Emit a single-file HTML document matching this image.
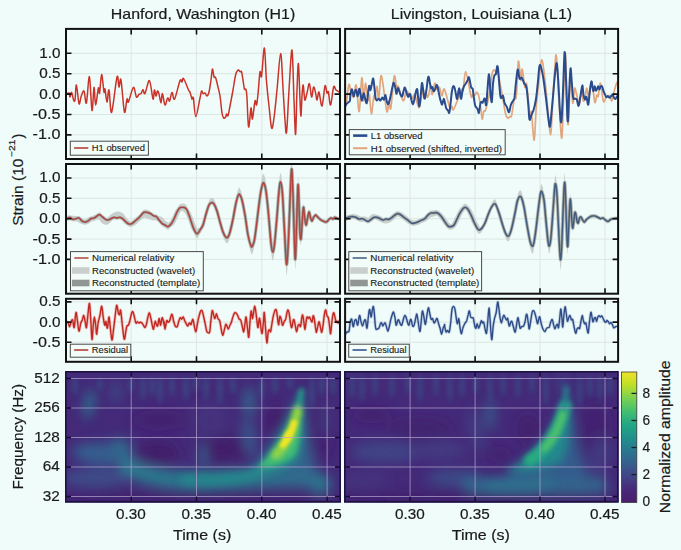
<!DOCTYPE html><html><head><meta charset="utf-8"><title>GW150914</title>
<style>html,body{margin:0;padding:0;background:#f0fcf9;}svg{display:block}text{font-family:"Liberation Sans",sans-serif;fill:#1a1a1a;stroke:#1a1a1a;stroke-width:0.2px}</style></head><body>
<svg width="681" height="550" viewBox="0 0 681 550">
<defs>
<clipPath id="cl0"><rect x="66" y="28.9" width="274" height="130.1"/></clipPath>
<clipPath id="cr0"><rect x="345.1" y="28.9" width="273" height="130.1"/></clipPath>
<clipPath id="cl1"><rect x="66" y="164" width="274" height="129.7"/></clipPath>
<clipPath id="cr1"><rect x="345.1" y="164" width="273" height="129.7"/></clipPath>
<clipPath id="cl2"><rect x="66" y="298.8" width="274" height="63"/></clipPath>
<clipPath id="cr2"><rect x="345.1" y="298.8" width="273" height="63"/></clipPath>
</defs>
<rect width="681" height="550" fill="#f0fcf9"/>
<line x1="131.2" y1="28.9" x2="131.2" y2="159" stroke="#dde7e3" stroke-width="1"/><line x1="196.5" y1="28.9" x2="196.5" y2="159" stroke="#dde7e3" stroke-width="1"/><line x1="261.8" y1="28.9" x2="261.8" y2="159" stroke="#dde7e3" stroke-width="1"/><line x1="327.1" y1="28.9" x2="327.1" y2="159" stroke="#dde7e3" stroke-width="1"/><line x1="66" y1="53.3" x2="340" y2="53.3" stroke="#dde7e3" stroke-width="1"/><line x1="66" y1="73.7" x2="340" y2="73.7" stroke="#dde7e3" stroke-width="1"/><line x1="66" y1="94.1" x2="340" y2="94.1" stroke="#dde7e3" stroke-width="1"/><line x1="66" y1="114.5" x2="340" y2="114.5" stroke="#dde7e3" stroke-width="1"/><line x1="66" y1="134.9" x2="340" y2="134.9" stroke="#dde7e3" stroke-width="1"/>
<line x1="410.1" y1="28.9" x2="410.1" y2="159" stroke="#dde7e3" stroke-width="1"/><line x1="475.1" y1="28.9" x2="475.1" y2="159" stroke="#dde7e3" stroke-width="1"/><line x1="540.0" y1="28.9" x2="540.0" y2="159" stroke="#dde7e3" stroke-width="1"/><line x1="605.0" y1="28.9" x2="605.0" y2="159" stroke="#dde7e3" stroke-width="1"/><line x1="345.1" y1="53.3" x2="618.1" y2="53.3" stroke="#dde7e3" stroke-width="1"/><line x1="345.1" y1="73.7" x2="618.1" y2="73.7" stroke="#dde7e3" stroke-width="1"/><line x1="345.1" y1="94.1" x2="618.1" y2="94.1" stroke="#dde7e3" stroke-width="1"/><line x1="345.1" y1="114.5" x2="618.1" y2="114.5" stroke="#dde7e3" stroke-width="1"/><line x1="345.1" y1="134.9" x2="618.1" y2="134.9" stroke="#dde7e3" stroke-width="1"/>
<g clip-path="url(#cl0)"><path d="M66.0,94.4C66.5,94.2 68.3,92.6 69.0,93.0C69.7,93.4 69.6,97.1 70.0,97.0C70.4,96.9 71.0,91.9 71.6,92.4C72.2,92.9 73.0,98.7 73.6,100.0C74.2,101.3 74.5,102.5 75.0,100.0C75.5,97.5 75.7,84.4 76.4,85.0C77.1,85.6 78.2,101.6 79.0,103.6C79.8,105.6 80.2,99.1 81.0,97.0C81.8,94.9 83.1,90.0 84.0,91.0C84.9,92.0 85.5,105.4 86.4,103.0C87.3,100.6 88.5,75.4 89.4,76.6C90.3,77.8 91.2,108.6 92.0,110.4C92.8,112.2 93.4,88.3 94.0,87.4C94.6,86.5 94.9,104.9 95.6,105.0C96.3,105.1 97.7,90.0 98.4,88.0C99.1,86.0 99.1,95.3 99.6,93.0C100.1,90.7 100.9,74.6 101.6,74.4C102.3,74.2 103.4,89.6 104.0,92.0C104.6,94.4 104.5,87.3 105.0,89.0C105.5,90.7 106.3,101.8 107.0,102.0C107.7,102.2 108.2,88.3 109.0,90.0C109.8,91.7 110.3,114.6 111.6,112.4C112.9,110.2 115.8,81.2 117.0,77.0C118.2,72.8 118.3,86.5 119.0,87.0C119.7,87.5 120.1,75.8 121.0,80.0C121.9,84.2 123.4,108.8 124.4,112.0C125.4,115.2 126.3,100.7 127.0,99.0C127.7,97.3 127.3,103.9 128.4,102.0C129.5,100.1 132.1,88.2 133.4,87.4C134.7,86.6 135.5,95.8 136.4,97.0C137.3,98.2 138.2,95.0 139.0,94.4C139.8,93.8 140.3,94.4 141.0,93.6C141.7,92.8 142.3,89.6 143.0,89.6C143.7,89.6 143.9,95.1 145.0,93.6C146.1,92.1 148.1,79.7 149.4,80.6C150.7,81.5 152.2,97.4 153.0,99.0C153.8,100.6 153.9,90.5 154.4,90.0C154.9,89.5 155.5,95.8 156.0,96.0C156.5,96.2 156.9,91.3 157.4,91.0C157.9,90.7 158.4,92.0 159.0,94.0C159.6,96.0 160.4,103.1 161.0,103.0C161.6,102.9 161.7,93.3 162.4,93.6C163.1,93.9 164.1,104.3 165.0,105.0C165.9,105.7 166.8,98.7 167.6,98.0C168.4,97.3 168.9,101.9 169.6,101.0C170.3,100.1 171.2,92.7 172.0,92.4C172.8,92.1 173.3,101.0 174.6,99.0C175.9,97.0 178.8,83.4 180.0,80.6C181.2,77.8 181.4,82.3 182.0,82.0C182.6,81.7 182.4,77.1 183.6,78.6C184.8,80.1 187.9,88.8 189.0,91.0C190.1,93.2 189.5,90.7 190.0,92.0C190.5,93.3 191.4,98.0 192.0,99.0C192.6,100.0 192.8,95.1 193.4,98.0C194.0,100.9 194.7,116.6 195.8,116.6C196.9,116.6 199.0,102.3 200.0,98.0C201.0,93.7 201.1,91.7 201.6,91.0C202.1,90.3 202.4,93.3 203.0,93.6C203.6,93.9 204.3,92.6 205.0,93.0C205.7,93.4 206.3,96.2 207.0,96.0C207.7,95.8 208.3,94.7 209.0,92.0C209.7,89.3 210.4,83.8 211.0,80.0C211.6,76.2 211.9,69.5 212.4,69.0C212.9,68.5 213.5,75.6 214.0,77.0C214.5,78.4 214.9,75.9 215.6,77.6C216.3,79.3 217.3,83.9 218.0,87.0C218.7,90.1 219.3,91.7 220.0,96.0C220.7,100.3 221.4,109.3 222.0,113.0C222.6,116.7 223.0,117.3 223.6,118.0C224.2,118.7 225.1,117.7 225.6,117.0C226.1,116.3 226.2,114.2 226.6,114.0C227.0,113.8 227.4,116.9 228.0,115.6C228.6,114.3 229.2,110.3 230.0,106.0C230.8,101.7 232.1,95.2 233.0,90.0C233.9,84.8 234.8,78.3 235.6,75.0C236.4,71.7 237.3,70.6 238.0,70.0C238.7,69.4 239.4,71.3 240.0,71.6C240.6,71.9 241.1,70.6 241.6,72.0C242.1,73.4 242.5,77.2 243.0,80.0C243.5,82.8 243.9,87.4 244.4,89.0C244.9,90.6 245.6,88.1 246.0,89.6C246.4,91.1 246.6,91.8 247.0,98.0C247.4,104.2 247.9,125.3 248.6,127.0C249.3,128.7 250.4,109.3 251.0,108.0C251.6,106.7 251.7,120.2 252.4,119.0C253.1,117.8 254.3,103.3 255.0,101.0C255.7,98.7 256.1,106.2 256.6,105.0C257.1,103.8 257.4,99.5 258.0,94.0C258.6,88.5 259.4,75.0 260.0,72.0C260.6,69.0 260.9,80.0 261.6,76.0C262.3,72.0 263.6,47.3 264.4,48.0C265.2,48.7 265.6,70.3 266.4,80.0C267.2,89.7 268.1,98.0 269.0,106.0C269.9,114.0 270.8,126.0 271.6,128.0C272.4,130.0 273.1,124.3 274.0,118.0C274.9,111.7 275.9,100.7 277.0,90.0C278.1,79.3 279.6,53.9 280.6,53.6C281.6,53.3 282.3,76.9 283.0,88.0C283.7,99.1 284.4,112.7 285.0,120.0C285.6,127.3 285.9,137.0 286.6,132.0C287.3,127.0 288.1,103.7 289.0,90.0C289.9,76.3 291.2,48.3 292.0,50.0C292.8,51.7 293.4,85.9 294.0,100.0C294.6,114.1 295.1,136.1 295.6,134.4C296.1,132.7 296.5,101.8 297.0,90.0C297.5,78.2 297.9,61.9 298.4,63.6C298.9,65.3 299.6,91.3 300.0,100.0C300.4,108.7 300.7,116.7 301.0,116.0C301.3,115.3 301.6,101.2 302.0,96.0C302.4,90.8 302.7,84.3 303.2,85.0C303.7,85.7 304.2,98.7 304.8,100.0C305.4,101.3 306.2,95.7 307.0,93.0C307.8,90.3 308.6,82.9 309.4,83.6C310.2,84.3 310.9,96.4 311.6,97.0C312.3,97.6 312.9,87.7 313.6,87.0C314.3,86.3 315.0,90.8 315.6,93.0C316.2,95.2 316.4,100.2 317.0,100.0C317.6,99.8 318.2,91.0 319.0,92.0C319.8,93.0 321.0,107.0 322.0,106.0C323.0,105.0 324.2,88.2 325.0,86.0C325.8,83.8 326.4,92.0 327.0,93.0C327.6,94.0 327.8,90.0 328.4,92.0C329.0,94.0 329.7,105.8 330.6,105.0C331.5,104.2 332.7,89.5 333.6,87.0C334.5,84.5 334.9,89.1 336.0,90.0C337.1,90.9 339.3,92.0 340.0,92.4" fill="none" stroke="#c9332a" stroke-width="1.5" stroke-linejoin="round"/></g>
<g clip-path="url(#cr0)"><path d="M335.8,93.8C336.3,94.0 338.1,95.6 338.8,95.2C339.5,94.8 339.4,91.1 339.8,91.2C340.2,91.3 340.8,96.3 341.4,95.8C342.0,95.3 342.8,89.5 343.4,88.2C344.0,86.9 344.3,85.7 344.8,88.2C345.3,90.7 345.5,103.8 346.2,103.2C346.9,102.6 348.0,86.6 348.8,84.6C349.6,82.6 350.0,89.1 350.8,91.2C351.6,93.3 352.9,98.2 353.8,97.2C354.7,96.2 355.3,82.8 356.2,85.2C357.1,87.6 358.3,112.8 359.2,111.6C360.1,110.4 361.0,79.6 361.8,77.8C362.6,76.0 363.2,99.9 363.8,100.8C364.4,101.7 364.7,83.3 365.4,83.2C366.1,83.1 367.5,98.2 368.2,100.2C368.9,102.2 368.9,92.9 369.4,95.2C369.9,97.5 370.7,113.6 371.4,113.8C372.1,114.0 373.2,98.6 373.8,96.2C374.4,93.8 374.3,100.9 374.8,99.2C375.3,97.5 376.1,86.4 376.8,86.2C377.5,86.0 378.0,99.9 378.8,98.2C379.6,96.5 380.1,73.6 381.4,75.8C382.7,78.0 385.6,107.0 386.8,111.2C388.0,115.4 388.1,101.7 388.8,101.2C389.5,100.7 389.9,112.4 390.8,108.2C391.7,104.0 393.2,79.4 394.2,76.2C395.2,73.0 396.1,87.5 396.8,89.2C397.5,90.9 397.1,84.3 398.2,86.2C399.3,88.1 401.9,100.0 403.2,100.8C404.5,101.6 405.3,92.4 406.2,91.2C407.1,90.0 408.0,93.2 408.8,93.8C409.6,94.4 410.1,93.8 410.8,94.6C411.5,95.4 412.1,98.6 412.8,98.6C413.5,98.6 413.7,93.1 414.8,94.6C415.9,96.1 417.9,108.5 419.2,107.6C420.5,106.7 422.0,90.8 422.8,89.2C423.6,87.6 423.7,97.7 424.2,98.2C424.7,98.7 425.3,92.4 425.8,92.2C426.3,92.0 426.7,96.9 427.2,97.2C427.7,97.5 428.2,96.2 428.8,94.2C429.4,92.2 430.2,85.1 430.8,85.2C431.4,85.3 431.5,94.9 432.2,94.6C432.9,94.3 433.9,83.9 434.8,83.2C435.7,82.5 436.6,89.5 437.4,90.2C438.2,90.9 438.7,86.3 439.4,87.2C440.1,88.1 441.0,95.5 441.8,95.8C442.6,96.1 443.1,87.2 444.4,89.2C445.7,91.2 448.6,104.8 449.8,107.6C451.0,110.4 451.2,105.9 451.8,106.2C452.4,106.5 452.2,111.1 453.4,109.6C454.6,108.1 457.7,99.4 458.8,97.2C459.9,95.0 459.3,97.5 459.8,96.2C460.3,94.9 461.2,90.2 461.8,89.2C462.4,88.2 462.6,93.1 463.2,90.2C463.8,87.3 464.5,71.6 465.6,71.6C466.7,71.6 468.8,85.9 469.8,90.2C470.8,94.5 470.9,96.5 471.4,97.2C471.9,97.9 472.2,94.9 472.8,94.6C473.4,94.3 474.1,95.6 474.8,95.2C475.5,94.8 476.1,92.0 476.8,92.2C477.5,92.4 478.1,93.5 478.8,96.2C479.5,98.9 480.2,104.4 480.8,108.2C481.4,112.0 481.7,118.7 482.2,119.2C482.7,119.7 483.3,112.6 483.8,111.2C484.3,109.8 484.7,112.3 485.4,110.6C486.1,108.9 487.1,104.3 487.8,101.2C488.5,98.1 489.1,96.5 489.8,92.2C490.5,87.9 491.2,78.9 491.8,75.2C492.4,71.5 492.8,70.9 493.4,70.2C494.0,69.5 494.9,70.5 495.4,71.2C495.9,71.9 496.0,74.0 496.4,74.2C496.8,74.4 497.2,71.3 497.8,72.6C498.4,73.9 499.0,77.9 499.8,82.2C500.6,86.5 501.9,93.0 502.8,98.2C503.7,103.4 504.6,109.9 505.4,113.2C506.2,116.5 507.1,117.6 507.8,118.2C508.5,118.8 509.2,116.9 509.8,116.6C510.4,116.3 510.9,117.6 511.4,116.2C511.9,114.8 512.3,111.0 512.8,108.2C513.3,105.4 513.7,100.8 514.2,99.2C514.7,97.6 515.4,100.1 515.8,98.6C516.2,97.1 516.4,96.4 516.8,90.2C517.2,84.0 517.7,62.9 518.4,61.2C519.1,59.5 520.2,78.9 520.8,80.2C521.4,81.5 521.5,68.0 522.2,69.2C522.9,70.4 524.1,84.9 524.8,87.2C525.5,89.5 525.9,82.0 526.4,83.2C526.9,84.4 527.2,88.7 527.8,94.2C528.4,99.7 529.2,113.2 529.8,116.2C530.4,119.2 530.7,108.2 531.4,112.2C532.1,116.2 533.4,140.9 534.2,140.2C535.0,139.5 535.4,117.9 536.2,108.2C537.0,98.5 537.9,90.2 538.8,82.2C539.7,74.2 540.6,62.2 541.4,60.2C542.2,58.2 542.9,63.9 543.8,70.2C544.7,76.5 545.7,87.5 546.8,98.2C547.9,108.9 549.4,134.3 550.4,134.6C551.4,134.9 552.1,111.3 552.8,100.2C553.5,89.1 554.2,75.5 554.8,68.2C555.4,60.9 555.7,51.2 556.4,56.2C557.1,61.2 557.9,84.5 558.8,98.2C559.7,111.9 561.0,139.9 561.8,138.2C562.6,136.5 563.2,102.3 563.8,88.2C564.4,74.1 564.9,52.1 565.4,53.8C565.9,55.5 566.3,86.4 566.8,98.2C567.3,110.0 567.7,126.3 568.2,124.6C568.7,122.9 569.4,96.9 569.8,88.2C570.2,79.5 570.5,71.5 570.8,72.2C571.1,72.9 571.4,87.0 571.8,92.2C572.2,97.4 572.5,103.9 573.0,103.2C573.5,102.5 574.0,89.5 574.6,88.2C575.2,86.9 576.0,92.5 576.8,95.2C577.6,97.9 578.4,105.3 579.2,104.6C580.0,103.9 580.7,91.8 581.4,91.2C582.1,90.6 582.7,100.5 583.4,101.2C584.1,101.9 584.8,97.4 585.4,95.2C586.0,93.0 586.2,88.0 586.8,88.2C587.4,88.4 588.0,97.2 588.8,96.2C589.6,95.2 590.8,81.2 591.8,82.2C592.8,83.2 594.0,100.0 594.8,102.2C595.6,104.4 596.2,96.2 596.8,95.2C597.4,94.2 597.6,98.2 598.2,96.2C598.8,94.2 599.5,82.4 600.4,83.2C601.3,84.0 602.5,98.7 603.4,101.2C604.3,103.7 604.7,99.1 605.8,98.2C606.9,97.3 608.8,95.4 609.8,95.8C610.8,96.2 611.0,101.6 611.8,100.8C612.5,100.0 613.5,93.8 614.3,90.8C615.1,87.8 615.9,84.6 616.8,82.8C617.7,81.0 619.3,80.3 619.8,79.8" fill="none" stroke="#e2a67f" stroke-width="1.7" stroke-linejoin="round"/><path d="M344.5,108.2C344.8,107.6 345.5,105.4 346.1,104.4C346.7,103.5 347.4,103.2 348.0,102.6C348.6,101.9 349.4,102.2 349.9,100.7C350.3,99.2 350.1,95.7 350.5,93.8C350.8,91.9 351.5,88.8 352.0,89.2C352.5,89.6 353.1,96.0 353.6,96.3C354.1,96.7 354.4,92.4 354.9,91.3C355.3,90.3 355.6,89.3 356.1,90.1C356.6,90.9 357.2,96.5 357.7,96.3C358.2,96.1 358.8,89.3 359.2,88.8C359.7,88.4 360.0,91.9 360.5,93.8C360.9,95.8 361.5,100.8 362.0,100.7C362.5,100.6 363.1,93.5 363.6,93.2C364.1,92.9 364.7,97.2 365.2,98.8C365.7,100.5 366.3,104.0 366.7,103.2C367.2,102.4 367.5,96.7 368.0,93.8C368.4,90.9 368.8,86.3 369.2,85.7C369.6,85.1 370.0,90.5 370.5,90.1C370.9,89.7 371.5,85.2 372.0,83.2C372.4,81.3 372.8,78.1 373.2,78.5C373.6,78.9 373.8,82.5 374.2,85.7C374.6,88.9 375.0,95.1 375.5,97.6C375.9,100.0 376.2,100.2 376.7,100.5C377.2,100.7 377.9,98.8 378.6,98.8C379.2,98.8 379.8,100.7 380.4,100.5C381.1,100.2 381.7,97.7 382.3,97.6C382.9,97.5 383.4,100.1 383.9,99.7C384.5,99.3 384.9,94.7 385.4,95.1C385.9,95.5 386.5,100.4 386.9,101.9C387.4,103.5 387.8,104.5 388.2,104.4C388.6,104.3 389.0,103.1 389.4,101.3C389.9,99.6 390.5,96.4 391.1,93.8C391.6,91.2 392.2,87.6 392.7,85.7C393.1,83.9 393.4,82.4 393.8,82.6C394.2,82.8 394.7,85.1 395.2,87.0C395.6,88.8 396.0,93.6 396.4,93.8C396.9,94.0 397.5,88.7 397.9,88.2C398.4,87.7 398.7,89.6 399.2,90.7C399.6,91.9 400.1,94.1 400.7,95.1C401.2,96.0 401.8,97.2 402.3,96.3C402.8,95.5 403.3,91.5 403.8,90.1C404.2,88.6 404.6,87.1 405.0,87.6C405.5,88.1 406.1,91.7 406.7,93.2C407.2,94.8 407.6,96.9 408.2,97.0C408.7,97.1 409.2,93.4 409.8,93.8C410.3,94.3 410.9,97.9 411.4,99.7C411.9,101.5 412.4,104.5 412.9,104.4C413.4,104.4 413.9,101.6 414.4,99.5C414.9,97.3 415.5,93.0 416.0,91.3C416.5,89.7 416.9,88.1 417.3,89.5C417.6,90.8 417.9,96.6 418.3,99.5C418.6,102.3 419.0,106.8 419.4,106.3C419.8,105.8 420.2,100.2 420.6,96.3C421.1,92.5 421.5,84.7 421.9,83.2C422.3,81.8 422.5,85.3 422.9,87.6C423.3,89.9 423.8,95.2 424.1,97.0C424.5,98.7 424.6,99.4 425.0,98.2C425.4,96.9 426.0,92.6 426.5,89.5C427.0,86.3 427.4,81.6 427.7,79.5C428.1,77.4 428.4,76.3 428.7,76.7C429.1,77.1 429.4,80.1 429.7,82.0C430.1,83.9 430.6,87.4 431.0,88.2C431.4,89.0 431.8,86.4 432.2,87.0C432.7,87.5 433.2,91.0 433.7,91.3C434.2,91.6 434.8,89.9 435.2,88.8C435.7,87.8 436.1,85.4 436.5,85.1C436.9,84.8 437.3,85.2 437.7,87.0C438.2,88.7 438.8,93.2 439.4,95.7C439.9,98.2 440.5,100.5 441.0,101.9C441.5,103.4 441.8,105.0 442.2,104.4C442.7,103.9 443.3,99.0 443.7,98.8C444.2,98.6 444.6,101.6 445.0,103.2C445.4,104.7 445.7,106.9 446.2,108.2C446.7,109.4 447.6,110.0 448.1,110.7C448.6,111.4 448.9,113.8 449.3,112.6C449.8,111.3 450.2,106.6 450.6,103.2C451.0,99.8 451.4,94.8 451.8,92.0C452.3,89.1 452.6,87.0 453.1,86.3C453.6,85.7 454.2,86.7 454.7,88.2C455.2,89.8 455.8,93.9 456.2,95.7C456.6,97.5 456.8,99.5 457.2,98.8C457.6,98.1 458.1,93.1 458.5,91.3C458.8,89.6 459.0,87.9 459.3,88.5C459.6,89.0 460.0,92.7 460.3,94.5C460.6,96.2 460.8,99.3 461.2,98.8C461.6,98.3 462.0,93.4 462.4,91.3C462.9,89.3 463.4,87.6 463.9,86.3C464.5,85.1 465.0,84.8 465.6,83.8C466.1,82.9 466.9,81.9 467.4,80.7C468.0,79.6 468.5,76.7 468.9,77.0C469.4,77.3 469.8,80.8 470.2,82.6C470.6,84.4 470.8,86.5 471.2,87.6C471.6,88.6 472.2,87.1 472.7,88.8C473.1,90.6 473.5,95.4 473.9,98.2C474.3,101.0 474.8,104.1 475.2,105.7C475.6,107.2 476.0,106.9 476.4,107.6C476.8,108.2 477.3,108.5 477.7,109.4C478.1,110.3 478.5,113.8 478.9,112.9C479.3,112.1 479.8,106.3 480.2,104.4C480.5,102.6 480.8,102.3 481.2,101.9C481.6,101.6 482.2,103.0 482.7,102.6C483.1,102.1 483.5,100.1 483.9,99.4C484.3,98.8 484.5,97.9 484.9,98.8C485.3,99.8 485.7,106.4 486.2,105.1C486.6,103.7 487.0,95.7 487.4,90.7C487.8,85.7 488.3,77.2 488.7,75.1C489.0,73.0 489.2,75.2 489.5,78.2C489.8,81.2 490.2,89.3 490.5,93.2C490.9,97.2 491.4,103.5 491.8,101.9C492.2,100.4 492.6,88.2 493.0,83.8C493.4,79.5 493.8,77.4 494.3,75.7C494.8,74.1 495.4,75.4 495.9,73.9C496.4,72.3 496.8,67.1 497.1,66.4C497.5,65.6 497.8,66.5 498.1,69.5C498.5,72.5 498.9,79.9 499.3,84.5C499.7,89.0 500.1,94.8 500.5,96.9C500.9,99.1 501.3,97.8 501.8,97.6C502.2,97.4 502.5,94.8 503.0,95.7C503.5,96.6 504.0,101.3 504.6,103.2C505.3,105.0 506.1,105.3 506.8,106.8C507.5,108.3 508.3,112.6 509.0,112.3C509.7,112.0 510.1,107.0 510.8,105.0C511.5,103.0 512.6,101.7 513.2,100.5C513.8,99.2 514.0,100.6 514.5,97.7C514.9,94.8 515.4,87.9 515.9,83.2C516.5,78.5 517.1,70.3 517.7,69.5C518.3,68.8 518.9,77.3 519.5,78.6C520.2,80.0 521.0,77.0 521.7,77.7C522.5,78.5 523.3,81.5 524.1,83.2C524.9,84.8 525.8,84.1 526.5,87.7C527.2,91.4 527.8,99.7 528.3,105.0C528.8,110.3 529.0,117.9 529.5,119.5C530.1,121.2 530.7,116.7 531.4,115.0C532.1,113.3 533.0,112.1 533.7,109.5C534.5,107.0 535.2,103.8 535.9,99.5C536.6,95.3 537.1,89.7 537.7,84.1C538.3,78.5 538.9,68.5 539.5,65.9C540.2,63.3 540.7,66.4 541.4,68.6C542.0,70.9 542.8,74.7 543.5,79.5C544.3,84.4 545.1,91.4 545.9,97.7C546.7,104.1 547.6,112.9 548.3,117.7C548.9,122.6 549.4,127.4 549.9,126.8C550.4,126.2 550.8,119.5 551.4,114.1C551.9,108.6 552.6,100.8 553.2,94.1C553.8,87.4 554.4,79.2 555.0,74.1C555.6,68.9 556.3,62.0 556.8,63.2C557.4,64.4 557.7,72.9 558.3,81.4C558.8,89.8 559.6,107.4 560.1,114.1C560.6,120.8 560.9,124.4 561.4,121.4C561.8,118.3 562.3,107.4 562.8,95.9C563.4,84.4 564.1,54.7 564.6,52.3C565.2,49.8 565.6,69.8 566.1,81.4C566.6,92.9 567.2,118.9 567.7,121.4C568.2,123.8 568.5,104.7 569.0,95.9C569.5,87.1 570.0,71.1 570.5,68.6C570.9,66.2 571.3,76.5 571.7,81.4C572.2,86.2 572.6,94.8 573.2,97.7C573.7,100.6 574.4,98.3 575.0,98.6C575.6,98.9 576.2,98.3 576.8,99.5C577.4,100.8 578.0,106.5 578.6,105.9C579.2,105.3 579.8,99.3 580.5,95.9C581.1,92.5 581.8,85.5 582.3,85.4C582.8,85.2 583.1,92.6 583.5,95.0C584.0,97.4 584.5,99.2 585.0,99.5C585.5,99.8 585.9,96.0 586.5,96.8C587.0,97.7 587.7,105.7 588.3,104.6C588.8,103.6 589.4,94.3 589.9,90.5C590.4,86.6 590.9,82.0 591.4,81.4C591.8,80.8 592.1,85.2 592.4,86.8C592.8,88.5 593.1,91.3 593.5,91.2C593.9,91.1 594.2,86.4 594.6,86.3C595.0,86.2 595.5,90.3 595.9,90.6C596.3,91.0 596.8,89.2 597.2,88.5C597.6,87.7 597.9,86.1 598.3,86.3C598.7,86.5 599.0,89.5 599.4,89.5C599.8,89.5 600.3,86.7 600.8,86.3C601.3,85.8 601.8,86.0 602.2,86.8C602.7,87.6 603.1,89.8 603.5,91.2C604.0,92.5 604.7,94.0 605.2,95.0C605.6,96.0 605.8,97.0 606.3,97.2C606.7,97.4 607.4,96.0 607.9,96.1C608.5,96.2 609.0,97.7 609.5,97.7C610.1,97.7 610.6,96.6 611.2,96.1C611.7,95.5 612.4,94.2 612.8,94.5C613.3,94.7 613.5,97.0 613.9,97.7C614.4,98.5 615.0,99.1 615.5,98.8C616.1,98.5 616.5,96.5 617.2,96.1C617.9,95.7 619.5,96.5 619.9,96.6" fill="none" stroke="#2a4b8d" stroke-width="2" stroke-linejoin="round"/></g>
<path d="M131.2,28.9 v5.5 M131.2,159 v-5.5" stroke="#111" stroke-width="1.6" fill="none"/><path d="M196.5,28.9 v5.5 M196.5,159 v-5.5" stroke="#111" stroke-width="1.6" fill="none"/><path d="M261.8,28.9 v5.5 M261.8,159 v-5.5" stroke="#111" stroke-width="1.6" fill="none"/><path d="M327.1,28.9 v5.5 M327.1,159 v-5.5" stroke="#111" stroke-width="1.6" fill="none"/><path d="M66,53.3 h5.5 M340,53.3 h-5.5" stroke="#111" stroke-width="1.6" fill="none"/><path d="M66,73.7 h5.5 M340,73.7 h-5.5" stroke="#111" stroke-width="1.6" fill="none"/><path d="M66,94.1 h5.5 M340,94.1 h-5.5" stroke="#111" stroke-width="1.6" fill="none"/><path d="M66,114.5 h5.5 M340,114.5 h-5.5" stroke="#111" stroke-width="1.6" fill="none"/><path d="M66,134.9 h5.5 M340,134.9 h-5.5" stroke="#111" stroke-width="1.6" fill="none"/>
<path d="M410.1,28.9 v5.5 M410.1,159 v-5.5" stroke="#111" stroke-width="1.6" fill="none"/><path d="M475.1,28.9 v5.5 M475.1,159 v-5.5" stroke="#111" stroke-width="1.6" fill="none"/><path d="M540.0,28.9 v5.5 M540.0,159 v-5.5" stroke="#111" stroke-width="1.6" fill="none"/><path d="M605.0,28.9 v5.5 M605.0,159 v-5.5" stroke="#111" stroke-width="1.6" fill="none"/><path d="M345.1,53.3 h5.5 M618.1,53.3 h-5.5" stroke="#111" stroke-width="1.6" fill="none"/><path d="M345.1,73.7 h5.5 M618.1,73.7 h-5.5" stroke="#111" stroke-width="1.6" fill="none"/><path d="M345.1,94.1 h5.5 M618.1,94.1 h-5.5" stroke="#111" stroke-width="1.6" fill="none"/><path d="M345.1,114.5 h5.5 M618.1,114.5 h-5.5" stroke="#111" stroke-width="1.6" fill="none"/><path d="M345.1,134.9 h5.5 M618.1,134.9 h-5.5" stroke="#111" stroke-width="1.6" fill="none"/>
<rect x="70.3" y="141.2" width="78.1" height="14.0" fill="#f2fcf9" stroke="#4a4a4a" stroke-width="1"/><line x1="74.1" y1="148.0" x2="88.3" y2="148.0" stroke="#b2423a" stroke-width="1.6"/><text style="stroke-width:0.12px" x="91.8" y="151.3" font-size="9.5" textLength="53.2" lengthAdjust="spacingAndGlyphs" fill="#1c1c1c">H1 observed</text>
<rect x="349.3" y="129.6" width="155.9" height="25.2" fill="#f2fcf9" stroke="#4a4a4a" stroke-width="1"/><line x1="353.1" y1="135.6" x2="367.3" y2="135.6" stroke="#2a4b8d" stroke-width="2.6"/><text style="stroke-width:0.12px" x="370.8" y="138.9" font-size="9.5" textLength="51.8" lengthAdjust="spacingAndGlyphs" fill="#1c1c1c">L1 observed</text><line x1="353.1" y1="148.2" x2="367.3" y2="148.2" stroke="#e2a67f" stroke-width="2"/><text style="stroke-width:0.12px" x="370.8" y="151.5" font-size="9.5" textLength="131.2" lengthAdjust="spacingAndGlyphs" fill="#1c1c1c">H1 observed (shifted, inverted)</text>
<rect x="66" y="28.9" width="274" height="130.1" fill="none" stroke="#111" stroke-width="2"/>
<rect x="345.1" y="28.9" width="273" height="130.1" fill="none" stroke="#111" stroke-width="2"/>
<line x1="131.2" y1="164" x2="131.2" y2="293.7" stroke="#dde7e3" stroke-width="1"/><line x1="196.5" y1="164" x2="196.5" y2="293.7" stroke="#dde7e3" stroke-width="1"/><line x1="261.8" y1="164" x2="261.8" y2="293.7" stroke="#dde7e3" stroke-width="1"/><line x1="327.1" y1="164" x2="327.1" y2="293.7" stroke="#dde7e3" stroke-width="1"/><line x1="66" y1="178.0" x2="340" y2="178.0" stroke="#dde7e3" stroke-width="1"/><line x1="66" y1="198.3" x2="340" y2="198.3" stroke="#dde7e3" stroke-width="1"/><line x1="66" y1="218.7" x2="340" y2="218.7" stroke="#dde7e3" stroke-width="1"/><line x1="66" y1="239.1" x2="340" y2="239.1" stroke="#dde7e3" stroke-width="1"/><line x1="66" y1="259.4" x2="340" y2="259.4" stroke="#dde7e3" stroke-width="1"/>
<line x1="410.1" y1="164" x2="410.1" y2="293.7" stroke="#dde7e3" stroke-width="1"/><line x1="475.1" y1="164" x2="475.1" y2="293.7" stroke="#dde7e3" stroke-width="1"/><line x1="540.0" y1="164" x2="540.0" y2="293.7" stroke="#dde7e3" stroke-width="1"/><line x1="605.0" y1="164" x2="605.0" y2="293.7" stroke="#dde7e3" stroke-width="1"/><line x1="345.1" y1="178.0" x2="618.1" y2="178.0" stroke="#dde7e3" stroke-width="1"/><line x1="345.1" y1="198.3" x2="618.1" y2="198.3" stroke="#dde7e3" stroke-width="1"/><line x1="345.1" y1="218.7" x2="618.1" y2="218.7" stroke="#dde7e3" stroke-width="1"/><line x1="345.1" y1="239.1" x2="618.1" y2="239.1" stroke="#dde7e3" stroke-width="1"/><line x1="345.1" y1="259.4" x2="618.1" y2="259.4" stroke="#dde7e3" stroke-width="1"/>
<g clip-path="url(#cl1)"><path d="M65.0,217.2L65.2,217.2L65.5,217.3L65.9,217.3L66.4,217.2L67.2,216.9L68.1,216.4L69.1,215.9L70.0,215.8L70.8,216.2L71.5,217.0L72.3,217.6L73.0,217.9L73.8,217.9L74.5,217.7L75.2,217.4L76.0,217.2L76.8,216.9L77.5,216.6L78.2,216.4L79.0,216.5L79.8,217.1L80.5,217.9L81.2,218.8L82.0,219.4L82.8,219.8L83.5,220.1L84.2,220.3L85.0,220.3L85.8,220.3L86.5,220.1L87.2,219.8L88.0,219.4L88.8,218.9L89.5,218.3L90.2,217.7L91.0,217.2L91.8,216.9L92.5,216.8L93.2,216.8L94.0,216.5L94.8,216.0L95.5,215.4L96.3,214.7L97.0,214.1L97.7,213.5L98.3,212.9L99.0,212.5L99.6,212.4L100.2,212.7L100.8,213.3L101.4,214.1L102.0,214.8L102.7,215.6L103.5,216.3L104.2,217.1L105.0,217.6L105.8,217.9L106.5,218.2L107.2,218.4L108.0,218.5L108.8,218.3L109.5,218.0L110.2,217.6L111.0,217.2L111.8,216.8L112.5,216.4L113.2,216.0L114.0,215.8L114.8,215.9L115.5,216.1L116.2,216.4L117.0,216.5L117.8,216.4L118.5,216.1L119.2,215.8L120.0,215.8L120.8,216.0L121.5,216.5L122.2,217.0L123.0,217.6L123.8,218.2L124.5,218.9L125.2,219.7L126.0,220.3L126.8,220.9L127.6,221.5L128.3,221.9L129.0,222.2L129.5,222.4L130.0,222.4L130.5,222.4L131.0,222.2L131.7,221.9L132.4,221.4L133.2,220.9L134.0,220.3L134.8,219.8L135.5,219.2L136.2,218.6L137.0,217.9L137.8,217.3L138.5,216.6L139.2,215.7L140.0,214.8L140.8,213.7L141.6,212.5L142.3,211.3L143.0,210.5L143.5,210.0L144.0,209.7L144.5,209.6L145.0,209.5L145.7,209.5L146.4,209.6L147.2,209.7L148.0,210.0L148.8,210.3L149.5,210.7L150.2,211.2L151.0,211.7L151.8,212.3L152.5,212.9L153.3,213.6L154.0,214.1L154.6,214.3L155.2,214.4L155.8,214.4L156.4,214.8L157.0,215.6L157.7,216.7L158.3,217.6L159.0,218.5L159.7,219.3L160.5,220.2L161.2,221.0L162.0,221.7L162.8,222.1L163.5,222.5L164.2,222.8L165.0,223.1L165.8,223.6L166.5,224.1L167.2,224.5L168.0,224.6L168.8,224.3L169.5,223.8L170.2,223.1L171.0,222.2L171.8,221.2L172.5,220.1L173.2,218.9L174.0,217.6L174.8,215.7L175.5,213.4L176.3,211.2L177.0,209.3L177.7,207.7L178.3,206.4L179.0,205.3L179.6,204.4L180.2,203.9L180.8,203.7L181.4,203.7L182.0,203.7L182.6,203.6L183.3,203.6L184.0,203.7L184.6,203.9L185.2,204.3L185.8,204.8L186.4,205.6L187.0,206.8L187.7,208.8L188.5,211.2L189.2,213.9L190.0,216.5L190.8,218.7L191.5,220.9L192.2,223.1L193.0,225.0L193.8,226.7L194.6,228.3L195.3,229.6L196.0,230.6L196.5,231.1L196.8,231.3L197.2,231.2L197.6,231.0L198.1,230.4L198.7,229.7L199.3,228.8L200.0,227.8L200.7,226.9L201.5,225.9L202.2,224.7L203.0,223.1L203.8,220.9L204.5,218.3L205.2,215.0L206.0,211.7L206.8,208.6L207.5,205.6L208.3,202.9L209.0,200.8L209.7,199.4L210.3,198.5L211.0,198.1L211.6,197.9L212.2,197.8L212.8,198.0L213.4,198.6L214.0,199.6L214.7,201.1L215.5,203.1L216.2,205.4L217.0,208.0L217.8,211.1L218.5,214.5L219.2,217.8L220.0,220.3L220.8,222.8L221.5,225.3L222.2,227.6L223.0,229.6L223.8,231.3L224.6,232.8L225.3,233.9L226.0,234.7L226.6,235.1L227.1,235.1L227.5,234.8L228.0,234.3L228.5,233.6L228.9,232.7L229.4,231.4L230.0,229.6L230.7,227.2L231.4,224.2L232.2,221.0L233.0,217.6L233.8,212.9L234.5,207.7L235.3,202.6L236.0,198.4L236.7,195.0L237.3,192.3L237.9,190.2L238.4,188.7L238.8,187.9L239.2,187.7L239.6,188.0L240.0,188.7L240.4,189.5L240.9,190.6L241.4,192.2L242.0,194.7L242.7,198.3L243.4,202.7L244.2,207.6L245.0,212.9L245.8,218.4L246.5,223.4L247.2,228.3L248.0,232.4L248.8,235.8L249.6,238.7L250.4,241.0L251.0,242.7L251.4,243.5L251.8,243.7L252.0,243.3L252.4,242.7L252.8,241.9L253.3,241.0L253.8,239.5L254.4,237.1L255.0,233.6L255.6,229.3L256.3,224.4L257.0,219.4L257.7,213.0L258.5,205.1L259.3,197.5L260.0,191.1L260.7,186.1L261.3,181.9L261.9,178.6L262.4,176.1L262.8,174.5L263.2,173.9L263.6,173.9L264.0,174.6L264.5,175.8L265.0,177.5L265.5,180.1L266.0,183.8L266.6,189.0L267.2,195.5L267.8,202.7L268.4,210.5L269.1,218.9L269.8,226.7L270.4,234.1L271.0,239.9L271.5,243.7L271.9,246.2L272.2,247.7L272.6,248.2L273.0,248.0L273.5,246.9L273.9,244.8L274.4,241.7L274.9,237.4L275.5,231.9L276.0,225.8L276.6,219.4L277.2,211.0L277.8,200.9L278.5,191.3L279.0,183.8L279.5,178.8L279.8,175.3L280.2,173.4L280.6,173.0L281.0,173.9L281.5,176.2L281.9,180.2L282.4,186.3L282.9,195.2L283.4,206.6L283.9,218.3L284.4,226.9L284.8,234.8L285.3,242.7L285.7,249.6L286.0,254.8L286.3,258.0L286.5,259.6L286.7,259.8L287.0,258.5L287.3,255.5L287.7,250.8L288.0,244.9L288.4,238.0L288.8,229.7L289.2,220.0L289.6,207.9L290.0,195.9L290.4,183.9L290.8,171.6L291.2,161.7L291.6,157.2L292.0,159.6L292.3,167.1L292.7,177.5L293.0,188.7L293.4,201.7L293.7,217.1L294.1,228.7L294.4,238.0L294.7,245.2L294.9,251.0L295.1,254.6L295.4,254.8L295.7,250.4L296.0,242.3L296.3,232.6L296.6,223.1L296.9,211.7L297.3,196.7L297.7,183.8L298.0,176.6L298.3,177.3L298.5,183.5L298.8,192.4L299.0,200.8L299.2,209.2L299.5,218.4L299.8,225.3L300.0,230.6L300.2,233.8L300.5,235.8L300.8,236.6L301.0,236.2L301.2,234.3L301.5,231.0L301.7,227.1L302.0,223.1L302.3,218.7L302.7,212.6L303.1,206.8L303.4,203.7L303.7,204.3L304.0,207.6L304.3,211.8L304.6,215.3L304.9,218.0L305.3,220.3L305.6,222.2L306.0,223.1L306.3,222.7L306.7,221.2L307.0,219.3L307.4,217.6L307.8,215.3L308.2,212.6L308.6,210.3L309.0,209.3L309.4,210.1L309.8,212.1L310.2,214.6L310.6,216.5L311.0,217.7L311.3,218.6L311.6,219.2L312.0,219.4L312.4,219.0L312.8,218.1L313.2,217.0L313.6,215.8L314.1,214.8L314.6,213.9L315.1,213.2L315.6,212.9L316.2,213.2L316.7,214.0L317.3,214.9L318.0,215.8L318.7,216.6L319.5,217.3L320.2,218.0L321.0,218.5L321.8,218.9L322.5,219.3L323.3,219.5L324.0,219.8L324.6,220.1L325.2,220.3L325.8,220.4L326.4,220.3L327.0,219.9L327.7,219.3L328.4,218.5L329.0,217.9L329.5,217.5L330.0,217.1L330.5,216.7L331.0,216.5L331.5,216.7L332.0,217.1L332.5,217.4L333.0,217.6L333.5,217.3L333.9,216.7L334.4,216.1L335.0,215.8L335.7,215.9L336.4,216.4L337.2,216.9L338.0,217.2L339.0,217.3L340.2,217.3L341.3,217.2L342.0,217.2L342.0,220.0L341.3,220.1L340.2,220.1L339.0,220.1L338.0,220.0L337.2,219.7L336.4,219.3L335.7,219.0L335.0,218.9L334.4,219.1L333.9,219.6L333.5,220.2L333.0,220.5L332.5,220.4L332.0,219.9L331.5,219.6L331.0,219.4L330.5,219.6L330.0,219.9L329.5,220.4L329.0,221.0L328.4,221.8L327.7,222.7L327.0,223.6L326.4,224.2L325.8,224.3L325.2,224.1L324.6,223.8L324.0,223.4L323.3,223.1L322.5,222.7L321.8,222.3L321.0,221.7L320.2,221.0L319.5,220.2L318.7,219.5L318.0,218.9L317.3,218.2L316.7,217.5L316.2,216.9L315.6,216.6L315.1,216.9L314.6,217.4L314.1,218.1L313.6,218.9L313.2,219.8L312.8,221.2L312.4,222.4L312.0,222.9L311.6,222.7L311.3,221.9L311.0,220.7L310.6,219.4L310.2,217.9L309.8,216.1L309.4,214.5L309.0,213.8L308.6,214.6L308.2,216.4L307.8,218.5L307.4,220.5L307.0,222.8L306.7,225.3L306.3,227.2L306.0,227.8L305.6,226.6L305.3,224.1L304.9,221.1L304.6,218.5L304.3,215.8L304.0,212.5L303.7,210.1L303.4,209.6L303.1,212.0L302.7,216.4L302.3,222.0L302.0,227.8L301.7,232.9L301.5,238.0L301.2,242.3L301.0,244.7L300.8,245.2L300.5,244.3L300.2,241.7L300.0,237.5L299.8,230.6L299.5,221.6L299.2,213.8L299.0,207.3L298.8,200.9L298.5,194.1L298.3,189.3L298.0,188.7L297.7,194.2L297.3,204.2L296.9,215.7L296.6,227.8L296.3,240.1L296.0,252.7L295.7,263.2L295.4,268.9L295.1,268.7L294.9,264.1L294.7,256.4L294.4,247.1L294.1,235.0L293.7,219.9L293.4,208.0L293.0,198.0L292.7,189.4L292.3,181.4L292.0,175.7L291.6,173.9L291.2,177.3L290.8,184.9L290.4,194.4L290.0,203.6L289.6,212.8L289.2,223.7L288.8,236.4L288.4,247.1L288.0,256.1L287.7,263.8L287.3,269.8L287.0,273.8L286.7,275.5L286.5,275.3L286.3,273.1L286.0,268.9L285.7,262.2L285.3,253.2L284.8,242.9L284.4,232.6L283.9,221.5L283.4,211.8L282.9,203.0L282.4,196.2L281.9,191.5L281.5,188.4L281.0,186.7L280.6,185.9L280.2,186.3L279.8,187.7L279.5,190.4L279.0,194.3L278.5,200.1L277.8,207.4L277.2,215.2L276.6,222.9L276.0,231.2L275.5,239.2L274.9,246.3L274.4,252.0L273.9,256.0L273.5,258.7L273.0,260.2L272.6,260.5L272.2,259.7L271.9,257.8L271.5,254.5L271.0,249.6L270.4,242.1L269.8,232.4L269.1,222.3L268.4,214.8L267.8,208.8L267.2,203.2L266.6,198.3L266.0,194.3L265.5,191.4L265.0,189.4L264.5,188.1L264.0,187.2L263.6,186.7L263.2,186.6L262.8,187.2L262.4,188.4L261.9,190.3L261.3,192.8L260.7,196.0L260.0,199.9L259.3,204.8L258.5,210.7L257.7,216.7L257.0,222.9L256.3,229.5L255.6,235.8L255.0,241.4L254.4,245.9L253.8,249.0L253.3,251.0L252.8,252.3L252.4,253.2L252.0,254.0L251.8,254.5L251.4,254.3L251.0,253.2L250.4,251.1L249.6,248.1L248.8,244.3L248.0,239.9L247.2,234.5L246.5,228.1L245.8,221.6L245.0,216.6L244.2,212.6L243.4,208.8L242.7,205.4L242.0,202.7L241.4,200.8L240.9,199.5L240.4,198.7L240.0,198.0L239.6,197.5L239.2,197.3L238.8,197.4L238.4,198.0L237.9,199.2L237.3,200.8L236.7,202.9L236.0,205.5L235.3,208.7L234.5,212.6L233.8,216.7L233.0,220.5L232.2,224.9L231.4,229.2L230.7,233.1L230.0,236.3L229.4,238.6L228.9,240.2L228.5,241.4L228.0,242.3L227.5,243.0L227.1,243.3L226.6,243.3L226.0,242.8L225.3,241.8L224.6,240.3L223.8,238.4L223.0,236.3L222.2,233.7L221.5,230.6L220.8,227.4L220.0,224.2L219.2,220.8L218.5,217.9L217.8,215.2L217.0,212.9L216.2,210.9L215.5,209.1L214.7,207.6L214.0,206.4L213.4,205.6L212.8,205.2L212.2,205.1L211.6,205.1L211.0,205.3L210.3,205.6L209.7,206.3L209.0,207.3L208.3,209.0L207.5,211.0L206.8,213.3L206.0,215.7L205.2,218.3L204.5,221.4L203.8,224.9L203.0,227.8L202.2,229.9L201.5,231.4L200.7,232.6L200.0,233.8L199.3,235.1L198.7,236.3L198.1,237.3L197.6,238.0L197.2,238.3L196.8,238.4L196.5,238.2L196.0,237.5L195.3,236.2L194.6,234.5L193.8,232.4L193.0,230.2L192.2,227.7L191.5,224.9L190.8,222.0L190.0,219.4L189.2,217.4L188.5,215.3L187.7,213.5L187.0,212.0L186.4,211.0L185.8,210.4L185.2,210.0L184.6,209.8L184.0,209.5L183.3,209.5L182.6,209.5L182.0,209.6L181.4,209.6L180.8,209.6L180.2,209.7L179.6,210.1L179.0,210.8L178.3,211.6L177.7,212.6L177.0,213.8L176.3,215.3L175.5,217.0L174.8,218.8L174.0,220.5L173.2,222.3L172.5,223.9L171.8,225.3L171.0,226.6L170.2,227.7L169.5,228.6L168.8,229.4L168.0,229.7L167.2,229.6L166.5,229.1L165.8,228.4L165.0,227.8L164.2,227.4L163.5,227.0L162.8,226.5L162.0,225.8L161.2,225.0L160.5,223.9L159.7,222.8L159.0,221.7L158.3,220.6L157.7,219.5L157.0,218.7L156.4,218.1L155.8,217.8L155.2,217.8L154.6,217.7L154.0,217.6L153.3,217.2L152.5,216.7L151.8,216.2L151.0,215.7L150.2,215.3L149.5,215.0L148.8,214.7L148.0,214.4L147.2,214.2L146.4,214.1L145.7,214.0L145.0,214.0L144.5,214.1L144.0,214.2L143.5,214.4L143.0,214.8L142.3,215.4L141.6,216.3L140.8,217.3L140.0,218.1L139.2,218.8L138.5,219.5L137.8,220.2L137.0,221.0L136.2,221.8L135.5,222.6L134.8,223.4L134.0,224.2L133.2,224.9L132.4,225.6L131.7,226.2L131.0,226.6L130.5,226.8L130.0,226.9L129.5,226.8L129.0,226.6L128.3,226.2L127.6,225.6L126.8,224.9L126.0,224.2L125.2,223.3L124.5,222.3L123.8,221.3L123.0,220.5L122.2,219.9L121.5,219.4L120.8,219.1L120.0,218.9L119.2,218.9L118.5,219.1L117.8,219.3L117.0,219.4L116.2,219.3L115.5,219.1L114.8,218.9L114.0,218.9L113.2,219.0L112.5,219.3L111.8,219.7L111.0,220.0L110.2,220.5L109.5,221.1L108.8,221.5L108.0,221.7L107.2,221.7L106.5,221.4L105.8,221.0L105.0,220.5L104.2,219.9L103.5,219.3L102.7,218.7L102.0,218.1L101.4,217.6L100.8,217.0L100.2,216.5L99.6,216.3L99.0,216.4L98.3,216.7L97.7,217.1L97.0,217.6L96.3,218.0L95.5,218.5L94.8,219.0L94.0,219.4L93.2,219.6L92.5,219.7L91.8,219.8L91.0,220.0L90.2,220.7L89.5,221.5L88.8,222.3L88.0,222.9L87.2,223.4L86.5,223.8L85.8,224.1L85.0,224.2L84.2,224.1L83.5,223.9L82.8,223.5L82.0,222.9L81.2,222.1L80.5,221.0L79.8,220.0L79.0,219.4L78.2,219.3L77.5,219.5L76.8,219.8L76.0,220.0L75.2,220.3L74.5,220.7L73.8,221.0L73.0,221.0L72.3,220.6L71.5,219.8L70.8,219.2L70.0,218.9L69.1,219.0L68.1,219.3L67.2,219.7L66.4,220.0L65.9,220.1L65.5,220.1L65.2,220.1L65.0,220.0Z" fill="#c9cfcc"/><path d="M65.0,218.6C65.8,218.5 68.5,218.0 70.0,218.0C71.5,218.0 72.7,218.4 74.0,218.6C75.3,218.8 76.7,218.5 78.0,219.0C79.3,219.5 80.7,220.9 82.0,221.4C83.3,221.9 84.7,222.3 86.0,222.0C87.3,221.7 88.7,220.0 90.0,219.4C91.3,218.8 92.7,218.7 94.0,218.2C95.3,217.7 96.8,216.6 98.0,216.6C99.2,216.6 100.0,217.2 101.0,218.0C102.0,218.8 103.0,220.7 104.0,221.4C105.0,222.1 106.0,222.4 107.0,222.0C108.0,221.6 108.8,220.1 110.0,219.0C111.2,217.9 112.7,216.2 114.0,215.4C115.3,214.6 116.8,214.1 118.0,214.0C119.2,213.9 120.0,214.2 121.0,215.0C122.0,215.8 122.8,217.7 124.0,219.0C125.2,220.3 126.7,222.2 128.0,223.0C129.3,223.8 130.7,224.3 132.0,224.0C133.3,223.7 134.7,222.1 136.0,221.0C137.3,219.9 138.7,218.4 140.0,217.4C141.3,216.4 142.7,215.2 144.0,215.0C145.3,214.8 146.7,215.6 148.0,216.0C149.3,216.4 150.7,217.1 152.0,217.4C153.3,217.7 154.7,217.7 156.0,218.0C157.3,218.3 158.7,218.2 160.0,219.0C161.3,219.8 162.7,221.9 164.0,223.0C165.3,224.1 166.7,225.4 168.0,225.4C169.3,225.4 170.8,224.3 172.0,223.0C173.2,221.7 174.0,219.4 175.0,217.4C176.0,215.4 176.8,212.6 178.0,211.0C179.2,209.4 180.8,208.3 182.0,208.0C183.2,207.7 184.0,208.6 185.0,209.4C186.0,210.2 187.0,211.2 188.0,213.0C189.0,214.8 190.0,217.5 191.0,220.0C192.0,222.5 193.0,226.0 194.0,228.0C195.0,230.0 196.0,231.7 197.0,232.0C198.0,232.3 199.5,230.3 200.0,230.0" fill="none" stroke="#c9cfcc" stroke-width="5.2" stroke-linejoin="round"/><path d="M65.0,218.6C65.2,218.6 65.6,218.8 66.4,218.6C67.2,218.4 68.9,217.3 70.0,217.4C71.1,217.5 72.0,219.2 73.0,219.4C74.0,219.6 75.0,218.8 76.0,218.6C77.0,218.4 78.0,217.6 79.0,218.0C80.0,218.4 81.0,220.3 82.0,221.0C83.0,221.7 84.0,222.0 85.0,222.0C86.0,222.0 87.0,221.6 88.0,221.0C89.0,220.4 90.0,219.1 91.0,218.6C92.0,218.1 93.0,218.4 94.0,218.0C95.0,217.6 96.1,216.6 97.0,216.0C97.9,215.4 98.8,214.5 99.6,214.6C100.4,214.7 101.1,215.9 102.0,216.6C102.9,217.3 104.0,218.4 105.0,219.0C106.0,219.6 107.0,220.1 108.0,220.0C109.0,219.9 110.0,219.0 111.0,218.6C112.0,218.2 113.0,217.5 114.0,217.4C115.0,217.3 116.0,218.0 117.0,218.0C118.0,218.0 119.0,217.2 120.0,217.4C121.0,217.6 122.0,218.2 123.0,219.0C124.0,219.8 125.0,221.2 126.0,222.0C127.0,222.8 128.2,223.7 129.0,224.0C129.8,224.3 130.2,224.3 131.0,224.0C131.8,223.7 133.0,222.8 134.0,222.0C135.0,221.2 136.0,220.3 137.0,219.4C138.0,218.5 139.0,217.7 140.0,216.6C141.0,215.5 142.2,213.7 143.0,213.0C143.8,212.3 144.2,212.3 145.0,212.2C145.8,212.1 147.0,212.3 148.0,212.6C149.0,212.9 150.0,213.4 151.0,214.0C152.0,214.6 153.1,215.6 154.0,216.0C154.9,216.4 155.6,215.9 156.4,216.6C157.2,217.3 158.1,218.9 159.0,220.0C159.9,221.1 161.0,222.6 162.0,223.4C163.0,224.2 164.0,224.5 165.0,225.0C166.0,225.5 167.0,226.8 168.0,226.6C169.0,226.4 170.0,225.3 171.0,224.0C172.0,222.7 173.0,221.0 174.0,219.0C175.0,217.0 176.1,213.8 177.0,212.0C177.9,210.2 178.8,208.8 179.6,208.0C180.4,207.2 181.2,207.5 182.0,207.4C182.8,207.3 183.8,207.2 184.6,207.6C185.4,208.0 186.1,208.3 187.0,210.0C187.9,211.7 189.0,215.2 190.0,218.0C191.0,220.8 192.0,224.5 193.0,227.0C194.0,229.5 195.2,231.9 196.0,233.0C196.8,234.1 196.9,233.9 197.6,233.4C198.3,232.9 199.1,231.4 200.0,230.0C200.9,228.6 202.0,227.7 203.0,225.0C204.0,222.3 205.0,217.3 206.0,214.0C207.0,210.7 208.1,206.9 209.0,205.0C209.9,203.1 210.8,202.8 211.6,202.6C212.4,202.4 213.1,202.6 214.0,204.0C214.9,205.4 216.0,208.0 217.0,211.0C218.0,214.0 219.0,218.5 220.0,222.0C221.0,225.5 222.0,229.4 223.0,232.0C224.0,234.6 225.2,236.6 226.0,237.4C226.8,238.2 227.3,237.9 228.0,237.0C228.7,236.1 229.2,235.0 230.0,232.0C230.8,229.0 232.0,223.8 233.0,219.0C234.0,214.2 235.1,207.0 236.0,203.0C236.9,199.0 237.7,196.3 238.4,195.0C239.1,193.7 239.4,194.2 240.0,195.0C240.6,195.8 241.2,196.7 242.0,200.0C242.8,203.3 244.0,209.2 245.0,215.0C246.0,220.8 247.0,229.8 248.0,235.0C249.0,240.2 250.3,244.2 251.0,246.0C251.7,247.8 251.8,247.0 252.4,246.0C253.0,245.0 253.6,244.2 254.4,240.0C255.2,235.8 256.1,228.2 257.0,221.0C257.9,213.8 259.1,203.1 260.0,197.0C260.9,190.9 261.7,186.9 262.4,184.6C263.1,182.3 263.4,182.3 264.0,183.4C264.6,184.5 265.3,186.1 266.0,191.0C266.7,195.9 267.6,204.3 268.4,213.0C269.2,221.7 270.3,236.5 271.0,243.0C271.7,249.5 272.0,251.7 272.6,252.0C273.2,252.3 273.7,250.2 274.4,245.0C275.1,239.8 275.8,230.0 276.6,221.0C277.4,212.0 278.3,197.5 279.0,191.0C279.7,184.5 280.0,181.7 280.6,182.0C281.2,182.3 281.8,185.2 282.4,193.0C283.0,200.8 283.8,218.0 284.4,229.0C285.0,240.0 285.6,253.3 286.0,259.0C286.4,264.7 286.6,266.0 287.0,263.0C287.4,260.0 287.9,251.3 288.4,241.0C288.9,230.7 289.5,213.0 290.0,201.0C290.5,189.0 291.1,170.0 291.6,169.0C292.1,168.0 292.5,183.0 293.0,195.0C293.5,207.0 294.0,230.3 294.4,241.0C294.8,251.7 295.0,261.7 295.4,259.0C295.8,256.3 296.2,237.3 296.6,225.0C297.0,212.7 297.6,188.3 298.0,185.0C298.4,181.7 298.7,197.0 299.0,205.0C299.3,213.0 299.7,227.3 300.0,233.0C300.3,238.7 300.7,240.3 301.0,239.0C301.3,237.7 301.6,230.3 302.0,225.0C302.4,219.7 303.0,208.7 303.4,207.4C303.8,206.1 304.2,214.1 304.6,217.0C305.0,219.9 305.5,224.7 306.0,225.0C306.5,225.3 306.9,221.2 307.4,219.0C307.9,216.8 308.5,212.2 309.0,212.0C309.5,211.8 310.1,216.5 310.6,218.0C311.1,219.5 311.5,221.1 312.0,221.0C312.5,220.9 313.0,218.4 313.6,217.4C314.2,216.4 314.9,215.0 315.6,215.0C316.3,215.0 317.1,216.6 318.0,217.4C318.9,218.2 320.0,219.3 321.0,220.0C322.0,220.7 323.1,221.1 324.0,221.4C324.9,221.7 325.6,222.3 326.4,222.0C327.2,221.7 328.2,220.1 329.0,219.4C329.8,218.7 330.3,218.1 331.0,218.0C331.7,217.9 332.3,219.1 333.0,219.0C333.7,218.9 334.2,217.5 335.0,217.4C335.8,217.3 336.8,218.4 338.0,218.6C339.2,218.8 341.3,218.6 342.0,218.6" fill="none" stroke="#c9cfcc" stroke-width="3.6" stroke-linejoin="round"/><path d="M65.0,218.6C65.2,218.6 65.6,218.8 66.4,218.6C67.2,218.4 68.9,217.3 70.0,217.4C71.1,217.5 72.0,219.2 73.0,219.4C74.0,219.6 75.0,218.8 76.0,218.6C77.0,218.4 78.0,217.6 79.0,218.0C80.0,218.4 81.0,220.3 82.0,221.0C83.0,221.7 84.0,222.0 85.0,222.0C86.0,222.0 87.0,221.6 88.0,221.0C89.0,220.4 90.0,219.1 91.0,218.6C92.0,218.1 93.0,218.4 94.0,218.0C95.0,217.6 96.1,216.6 97.0,216.0C97.9,215.4 98.8,214.5 99.6,214.6C100.4,214.7 101.1,215.9 102.0,216.6C102.9,217.3 104.0,218.4 105.0,219.0C106.0,219.6 107.0,220.1 108.0,220.0C109.0,219.9 110.0,219.0 111.0,218.6C112.0,218.2 113.0,217.5 114.0,217.4C115.0,217.3 116.0,218.0 117.0,218.0C118.0,218.0 119.0,217.2 120.0,217.4C121.0,217.6 122.0,218.2 123.0,219.0C124.0,219.8 125.0,221.2 126.0,222.0C127.0,222.8 128.2,223.7 129.0,224.0C129.8,224.3 130.2,224.3 131.0,224.0C131.8,223.7 133.0,222.8 134.0,222.0C135.0,221.2 136.0,220.3 137.0,219.4C138.0,218.5 139.0,217.7 140.0,216.6C141.0,215.5 142.2,213.7 143.0,213.0C143.8,212.3 144.2,212.3 145.0,212.2C145.8,212.1 147.0,212.3 148.0,212.6C149.0,212.9 150.0,213.4 151.0,214.0C152.0,214.6 153.1,215.6 154.0,216.0C154.9,216.4 155.6,215.9 156.4,216.6C157.2,217.3 158.1,218.9 159.0,220.0C159.9,221.1 161.0,222.6 162.0,223.4C163.0,224.2 164.0,224.5 165.0,225.0C166.0,225.5 167.0,226.8 168.0,226.6C169.0,226.4 170.0,225.3 171.0,224.0C172.0,222.7 173.0,221.0 174.0,219.0C175.0,217.0 176.1,213.8 177.0,212.0C177.9,210.2 178.8,208.8 179.6,208.0C180.4,207.2 181.2,207.5 182.0,207.4C182.8,207.3 183.8,207.2 184.6,207.6C185.4,208.0 186.1,208.3 187.0,210.0C187.9,211.7 189.0,215.2 190.0,218.0C191.0,220.8 192.0,224.5 193.0,227.0C194.0,229.5 195.2,231.9 196.0,233.0C196.8,234.1 196.9,233.9 197.6,233.4C198.3,232.9 199.1,231.4 200.0,230.0C200.9,228.6 202.0,227.7 203.0,225.0C204.0,222.3 205.0,217.3 206.0,214.0C207.0,210.7 208.1,206.9 209.0,205.0C209.9,203.1 210.8,202.8 211.6,202.6C212.4,202.4 213.1,202.6 214.0,204.0C214.9,205.4 216.0,208.0 217.0,211.0C218.0,214.0 219.0,218.5 220.0,222.0C221.0,225.5 222.0,229.4 223.0,232.0C224.0,234.6 225.2,236.6 226.0,237.4C226.8,238.2 227.3,237.9 228.0,237.0C228.7,236.1 229.2,235.0 230.0,232.0C230.8,229.0 232.0,223.8 233.0,219.0C234.0,214.2 235.1,207.0 236.0,203.0C236.9,199.0 237.7,196.3 238.4,195.0C239.1,193.7 239.4,194.2 240.0,195.0C240.6,195.8 241.2,196.7 242.0,200.0C242.8,203.3 244.0,209.2 245.0,215.0C246.0,220.8 247.0,229.8 248.0,235.0C249.0,240.2 250.3,244.2 251.0,246.0C251.7,247.8 251.8,247.0 252.4,246.0C253.0,245.0 253.6,244.2 254.4,240.0C255.2,235.8 256.1,228.2 257.0,221.0C257.9,213.8 259.1,203.1 260.0,197.0C260.9,190.9 261.7,186.9 262.4,184.6C263.1,182.3 263.4,182.3 264.0,183.4C264.6,184.5 265.3,186.1 266.0,191.0C266.7,195.9 267.6,204.3 268.4,213.0C269.2,221.7 270.3,236.5 271.0,243.0C271.7,249.5 272.0,251.7 272.6,252.0C273.2,252.3 273.7,250.2 274.4,245.0C275.1,239.8 275.8,230.0 276.6,221.0C277.4,212.0 278.3,197.5 279.0,191.0C279.7,184.5 280.0,181.7 280.6,182.0C281.2,182.3 281.8,185.2 282.4,193.0C283.0,200.8 283.8,218.0 284.4,229.0C285.0,240.0 285.6,253.3 286.0,259.0C286.4,264.7 286.6,266.0 287.0,263.0C287.4,260.0 287.9,251.3 288.4,241.0C288.9,230.7 289.5,213.0 290.0,201.0C290.5,189.0 291.1,170.0 291.6,169.0C292.1,168.0 292.5,183.0 293.0,195.0C293.5,207.0 294.0,230.3 294.4,241.0C294.8,251.7 295.0,261.7 295.4,259.0C295.8,256.3 296.2,237.3 296.6,225.0C297.0,212.7 297.6,188.3 298.0,185.0C298.4,181.7 298.7,197.0 299.0,205.0C299.3,213.0 299.7,227.3 300.0,233.0C300.3,238.7 300.7,240.3 301.0,239.0C301.3,237.7 301.6,230.3 302.0,225.0C302.4,219.7 303.0,208.7 303.4,207.4C303.8,206.1 304.2,214.1 304.6,217.0C305.0,219.9 305.5,224.7 306.0,225.0C306.5,225.3 306.9,221.2 307.4,219.0C307.9,216.8 308.5,212.2 309.0,212.0C309.5,211.8 310.1,216.5 310.6,218.0C311.1,219.5 311.5,221.1 312.0,221.0C312.5,220.9 313.0,218.4 313.6,217.4C314.2,216.4 314.9,215.0 315.6,215.0C316.3,215.0 317.1,216.6 318.0,217.4C318.9,218.2 320.0,219.3 321.0,220.0C322.0,220.7 323.1,221.1 324.0,221.4C324.9,221.7 325.6,222.3 326.4,222.0C327.2,221.7 328.2,220.1 329.0,219.4C329.8,218.7 330.3,218.1 331.0,218.0C331.7,217.9 332.3,219.1 333.0,219.0C333.7,218.9 334.2,217.5 335.0,217.4C335.8,217.3 336.8,218.4 338.0,218.6C339.2,218.8 341.3,218.6 342.0,218.6" fill="none" stroke="#8f9693" stroke-width="2.4" stroke-linejoin="round"/><path d="M65.0,218.6C65.2,218.6 65.6,218.8 66.4,218.6C67.2,218.4 68.9,217.3 70.0,217.4C71.1,217.5 72.0,219.2 73.0,219.4C74.0,219.6 75.0,218.8 76.0,218.6C77.0,218.4 78.0,217.6 79.0,218.0C80.0,218.4 81.0,220.3 82.0,221.0C83.0,221.7 84.0,222.0 85.0,222.0C86.0,222.0 87.0,221.6 88.0,221.0C89.0,220.4 90.0,219.1 91.0,218.6C92.0,218.1 93.0,218.4 94.0,218.0C95.0,217.6 96.1,216.6 97.0,216.0C97.9,215.4 98.8,214.5 99.6,214.6C100.4,214.7 101.1,215.9 102.0,216.6C102.9,217.3 104.0,218.4 105.0,219.0C106.0,219.6 107.0,220.1 108.0,220.0C109.0,219.9 110.0,219.0 111.0,218.6C112.0,218.2 113.0,217.5 114.0,217.4C115.0,217.3 116.0,218.0 117.0,218.0C118.0,218.0 119.0,217.2 120.0,217.4C121.0,217.6 122.0,218.2 123.0,219.0C124.0,219.8 125.0,221.2 126.0,222.0C127.0,222.8 128.2,223.7 129.0,224.0C129.8,224.3 130.2,224.3 131.0,224.0C131.8,223.7 133.0,222.8 134.0,222.0C135.0,221.2 136.0,220.3 137.0,219.4C138.0,218.5 139.0,217.7 140.0,216.6C141.0,215.5 142.2,213.7 143.0,213.0C143.8,212.3 144.2,212.3 145.0,212.2C145.8,212.1 147.0,212.3 148.0,212.6C149.0,212.9 150.0,213.4 151.0,214.0C152.0,214.6 153.1,215.6 154.0,216.0C154.9,216.4 155.6,215.9 156.4,216.6C157.2,217.3 158.1,218.9 159.0,220.0C159.9,221.1 161.0,222.6 162.0,223.4C163.0,224.2 164.0,224.5 165.0,225.0C166.0,225.5 167.0,226.8 168.0,226.6C169.0,226.4 170.0,225.3 171.0,224.0C172.0,222.7 173.0,221.0 174.0,219.0C175.0,217.0 176.1,213.8 177.0,212.0C177.9,210.2 178.8,208.8 179.6,208.0C180.4,207.2 181.2,207.5 182.0,207.4C182.8,207.3 183.8,207.2 184.6,207.6C185.4,208.0 186.1,208.3 187.0,210.0C187.9,211.7 189.0,215.2 190.0,218.0C191.0,220.8 192.0,224.5 193.0,227.0C194.0,229.5 195.2,231.9 196.0,233.0C196.8,234.1 196.9,233.9 197.6,233.4C198.3,232.9 199.1,231.4 200.0,230.0C200.9,228.6 202.0,227.7 203.0,225.0C204.0,222.3 205.0,217.3 206.0,214.0C207.0,210.7 208.1,206.9 209.0,205.0C209.9,203.1 210.8,202.8 211.6,202.6C212.4,202.4 213.1,202.6 214.0,204.0C214.9,205.4 216.0,208.0 217.0,211.0C218.0,214.0 219.0,218.5 220.0,222.0C221.0,225.5 222.0,229.4 223.0,232.0C224.0,234.6 225.2,236.6 226.0,237.4C226.8,238.2 227.3,237.9 228.0,237.0C228.7,236.1 229.2,235.0 230.0,232.0C230.8,229.0 232.0,223.8 233.0,219.0C234.0,214.2 235.1,207.0 236.0,203.0C236.9,199.0 237.7,196.3 238.4,195.0C239.1,193.7 239.4,194.2 240.0,195.0C240.6,195.8 241.2,196.7 242.0,200.0C242.8,203.3 244.0,209.2 245.0,215.0C246.0,220.8 247.0,229.8 248.0,235.0C249.0,240.2 250.3,244.2 251.0,246.0C251.7,247.8 251.8,247.0 252.4,246.0C253.0,245.0 253.6,244.2 254.4,240.0C255.2,235.8 256.1,228.2 257.0,221.0C257.9,213.8 259.1,203.1 260.0,197.0C260.9,190.9 261.7,186.9 262.4,184.6C263.1,182.3 263.4,182.3 264.0,183.4C264.6,184.5 265.3,186.1 266.0,191.0C266.7,195.9 267.6,204.3 268.4,213.0C269.2,221.7 270.3,236.5 271.0,243.0C271.7,249.5 272.0,251.7 272.6,252.0C273.2,252.3 273.7,250.2 274.4,245.0C275.1,239.8 275.8,230.0 276.6,221.0C277.4,212.0 278.3,197.5 279.0,191.0C279.7,184.5 280.0,181.7 280.6,182.0C281.2,182.3 281.8,185.2 282.4,193.0C283.0,200.8 283.8,218.0 284.4,229.0C285.0,240.0 285.6,253.3 286.0,259.0C286.4,264.7 286.6,266.0 287.0,263.0C287.4,260.0 287.9,251.3 288.4,241.0C288.9,230.7 289.5,213.0 290.0,201.0C290.5,189.0 291.1,170.0 291.6,169.0C292.1,168.0 292.5,183.0 293.0,195.0C293.5,207.0 294.0,230.3 294.4,241.0C294.8,251.7 295.0,261.7 295.4,259.0C295.8,256.3 296.2,237.3 296.6,225.0C297.0,212.7 297.6,188.3 298.0,185.0C298.4,181.7 298.7,197.0 299.0,205.0C299.3,213.0 299.7,227.3 300.0,233.0C300.3,238.7 300.7,240.3 301.0,239.0C301.3,237.7 301.6,230.3 302.0,225.0C302.4,219.7 303.0,208.7 303.4,207.4C303.8,206.1 304.2,214.1 304.6,217.0C305.0,219.9 305.5,224.7 306.0,225.0C306.5,225.3 306.9,221.2 307.4,219.0C307.9,216.8 308.5,212.2 309.0,212.0C309.5,211.8 310.1,216.5 310.6,218.0C311.1,219.5 311.5,221.1 312.0,221.0C312.5,220.9 313.0,218.4 313.6,217.4C314.2,216.4 314.9,215.0 315.6,215.0C316.3,215.0 317.1,216.6 318.0,217.4C318.9,218.2 320.0,219.3 321.0,220.0C322.0,220.7 323.1,221.1 324.0,221.4C324.9,221.7 325.6,222.3 326.4,222.0C327.2,221.7 328.2,220.1 329.0,219.4C329.8,218.7 330.3,218.1 331.0,218.0C331.7,217.9 332.3,219.1 333.0,219.0C333.7,218.9 334.2,217.5 335.0,217.4C335.8,217.3 336.8,218.4 338.0,218.6C339.2,218.8 341.3,218.6 342.0,218.6" fill="none" stroke="#b2423a" stroke-width="1.25" stroke-linejoin="round"/></g>
<g clip-path="url(#cr1)"><path d="M344.0,217.6L344.2,217.5L344.5,217.5L344.9,217.4L345.4,217.2L346.1,216.8L347.0,216.3L348.0,215.7L349.0,215.3L350.0,215.0L351.0,214.9L352.1,214.8L353.0,214.8L353.8,214.9L354.6,215.2L355.3,215.4L356.0,215.8L356.8,216.3L357.5,216.8L358.2,217.3L359.0,217.6L359.8,217.6L360.5,217.4L361.2,217.2L362.0,217.2L362.8,217.4L363.5,217.7L364.2,218.1L365.0,218.5L365.8,218.9L366.5,219.3L367.2,219.7L368.0,219.8L368.8,219.5L369.5,219.1L370.2,218.5L371.0,217.9L371.8,217.4L372.5,216.8L373.2,216.2L374.0,215.8L374.8,215.6L375.5,215.5L376.2,215.6L377.0,215.8L377.8,216.0L378.5,216.4L379.2,216.8L380.0,217.2L380.8,217.6L381.5,218.0L382.2,218.3L383.0,218.5L383.8,218.4L384.5,218.1L385.2,217.8L386.0,217.6L386.8,217.6L387.5,217.8L388.2,218.0L389.0,217.9L389.8,217.6L390.5,217.2L391.2,216.5L392.0,215.8L392.8,215.1L393.5,214.3L394.2,213.5L395.0,212.9L395.8,212.3L396.5,211.8L397.2,211.3L398.0,211.2L398.8,211.3L399.5,211.8L400.2,212.3L401.0,212.9L401.8,213.5L402.5,214.3L403.2,215.1L404.0,215.8L404.8,216.4L405.5,217.0L406.2,217.4L407.0,217.9L407.8,218.5L408.5,219.2L409.3,219.8L410.0,220.3L410.7,220.8L411.3,221.2L411.9,221.5L412.6,221.7L413.4,221.6L414.3,221.4L415.2,221.2L416.0,220.9L416.8,220.7L417.5,220.4L418.3,220.1L419.0,219.8L419.8,219.5L420.5,219.2L421.2,218.8L422.0,218.5L422.8,218.2L423.5,218.0L424.2,217.7L425.0,217.2L425.8,216.3L426.5,215.1L427.2,213.9L428.0,212.9L428.8,212.1L429.5,211.4L430.2,210.9L431.0,210.5L431.8,210.3L432.5,210.3L433.3,210.4L434.0,210.5L434.7,210.3L435.3,210.1L436.0,210.0L436.6,210.0L437.2,210.2L437.8,210.5L438.4,211.0L439.0,211.7L439.7,212.5L440.5,213.5L441.2,214.6L442.0,215.8L442.8,217.1L443.5,218.2L444.2,219.3L445.0,220.3L445.8,221.4L446.5,222.4L447.2,223.4L448.0,224.1L448.8,224.5L449.5,224.7L450.2,224.7L451.0,224.6L451.8,224.5L452.5,224.3L453.2,223.8L454.0,223.1L454.8,222.0L455.5,220.6L456.2,219.0L457.0,217.6L457.8,215.9L458.5,214.0L459.2,212.1L460.0,210.5L460.8,208.9L461.5,207.4L462.3,206.2L463.0,205.1L463.6,204.4L464.2,203.9L464.8,203.7L465.4,203.7L466.0,203.9L466.7,204.4L467.3,205.1L468.0,206.1L468.7,207.5L469.5,209.1L470.2,211.0L471.0,212.9L471.8,214.9L472.5,217.1L473.2,218.8L474.0,220.3L474.8,221.9L475.6,223.4L476.3,224.8L477.0,225.9L477.5,226.7L478.0,227.3L478.5,227.7L479.0,227.8L479.7,227.6L480.4,227.3L481.2,226.7L482.0,225.9L482.8,225.0L483.5,224.0L484.2,222.7L485.0,221.3L485.8,219.6L486.5,217.7L487.2,215.3L488.0,212.9L488.8,210.6L489.5,208.3L490.2,206.2L491.0,204.4L491.8,202.8L492.6,201.4L493.3,200.3L494.0,199.6L494.5,199.3L495.0,199.3L495.5,199.7L496.0,200.8L496.7,202.6L497.4,204.9L498.2,207.7L499.0,210.5L499.8,213.3L500.5,216.4L501.2,219.0L502.0,221.3L502.8,223.5L503.5,225.8L504.3,227.9L505.0,229.6L505.7,231.0L506.3,232.1L506.8,232.9L507.4,233.4L507.9,233.6L508.4,233.6L508.9,233.2L509.4,232.4L510.0,231.2L510.6,229.5L511.3,227.4L512.0,225.0L512.7,222.1L513.5,218.7L514.3,214.7L515.0,210.5L515.6,206.5L516.2,202.5L516.8,198.9L517.4,195.9L518.0,193.8L518.5,192.3L519.1,191.2L519.6,190.6L520.1,190.3L520.6,190.5L521.1,191.1L521.6,192.3L522.2,194.1L522.7,196.5L523.3,199.5L524.0,203.2L524.7,207.9L525.5,213.6L526.2,218.9L527.0,223.1L527.8,227.2L528.6,231.3L529.3,235.1L530.0,238.0L530.6,240.1L531.1,241.4L531.6,242.2L532.0,242.7L532.4,242.9L532.8,242.9L533.2,242.3L533.6,240.8L534.1,238.3L534.7,235.0L535.4,231.1L536.0,226.9L536.6,222.0L537.3,216.4L538.0,209.4L538.6,203.2L539.2,197.9L539.7,193.1L540.2,189.2L540.6,186.3L541.0,184.6L541.3,184.0L541.6,184.2L542.0,185.1L542.5,186.3L543.0,188.2L543.5,191.0L544.0,194.7L544.5,200.0L545.0,206.5L545.5,213.5L546.0,219.4L546.5,224.5L547.0,229.6L547.5,234.4L548.0,238.0L548.4,240.5L548.7,242.0L549.0,242.7L549.4,242.7L549.8,241.9L550.2,240.3L550.6,237.8L551.0,234.3L551.5,229.3L552.0,223.0L552.5,216.1L553.0,208.0L553.4,200.6L553.9,193.1L554.3,186.5L554.6,181.4L554.9,178.0L555.1,175.9L555.3,175.0L555.6,175.4L555.9,176.7L556.3,179.1L556.6,182.9L557.0,188.7L557.4,197.2L557.8,208.1L558.2,219.0L558.6,226.9L559.0,233.9L559.4,240.7L559.7,246.6L560.0,251.0L560.2,253.8L560.4,255.2L560.6,255.5L560.8,254.8L561.0,253.1L561.3,250.3L561.5,246.6L561.8,241.7L562.1,235.4L562.4,227.6L562.7,219.5L563.0,210.5L563.3,201.1L563.6,191.8L563.9,183.6L564.2,177.8L564.4,174.6L564.6,173.3L564.8,174.0L565.0,176.6L565.2,181.5L565.5,188.8L565.7,197.1L566.0,205.6L566.3,214.8L566.5,223.2L566.8,230.6L567.0,236.2L567.2,239.9L567.4,242.4L567.6,243.4L567.8,242.7L568.0,239.7L568.3,234.6L568.5,228.8L568.8,223.1L569.1,217.4L569.4,209.6L569.7,202.3L570.0,197.2L570.2,194.5L570.3,193.6L570.4,194.2L570.6,195.9L570.8,199.5L571.1,204.7L571.3,210.4L571.6,215.3L571.9,218.9L572.1,222.0L572.4,224.5L572.6,225.9L572.8,225.9L573.1,224.8L573.3,223.1L573.6,221.3L573.9,219.0L574.2,216.1L574.5,212.7L574.8,210.5L575.1,209.7L575.3,209.8L575.5,210.6L575.8,211.7L576.1,213.4L576.4,215.8L576.7,218.0L577.0,219.4L577.3,220.4L577.6,221.0L577.9,221.4L578.2,221.3L578.5,220.5L578.9,219.1L579.2,217.7L579.6,216.5L579.9,215.8L580.3,215.3L580.6,215.2L581.0,215.3L581.4,215.9L581.8,216.9L582.2,217.8L582.6,218.5L583.0,219.1L583.5,219.7L583.9,220.2L584.4,220.3L584.9,220.0L585.5,219.4L586.0,218.6L586.6,217.9L587.2,217.4L587.8,216.9L588.4,216.3L589.0,215.8L589.7,215.3L590.5,214.8L591.2,214.4L592.0,214.1L592.8,213.9L593.5,213.9L594.2,213.9L595.0,214.1L595.8,214.4L596.5,214.9L597.3,215.3L598.0,215.8L598.7,216.2L599.3,216.7L600.0,217.0L600.6,217.2L601.2,217.1L601.8,216.8L602.4,216.5L603.0,216.5L603.6,216.9L604.2,217.4L604.8,218.0L605.4,218.5L606.0,218.9L606.7,219.4L607.3,219.7L608.0,219.8L608.7,219.5L609.3,219.0L610.0,218.4L610.6,217.9L611.2,217.7L611.7,217.5L612.3,217.3L613.0,217.2L613.9,217.1L614.9,216.9L616.0,216.8L617.0,216.8L618.1,216.7L619.2,216.7L620.3,216.7L621.0,216.8L621.0,219.6L620.3,219.6L619.2,219.6L618.1,219.6L617.0,219.6L616.0,219.7L614.9,219.8L613.9,219.9L613.0,220.0L612.3,220.2L611.7,220.4L611.2,220.7L610.6,221.0L610.0,221.6L609.3,222.4L608.7,223.1L608.0,223.4L607.3,223.3L606.7,222.9L606.0,222.3L605.4,221.7L604.8,221.1L604.2,220.4L603.6,219.7L603.0,219.4L602.4,219.4L601.8,219.7L601.2,219.9L600.6,220.0L600.0,219.8L599.3,219.5L598.7,219.2L598.0,218.9L597.3,218.5L596.5,218.1L595.8,217.8L595.0,217.6L594.2,217.4L593.5,217.4L592.8,217.4L592.0,217.6L591.2,217.8L590.5,218.1L589.7,218.5L589.0,218.9L588.4,219.3L587.8,219.7L587.2,220.3L586.6,221.0L586.0,221.9L585.5,222.9L584.9,223.7L584.4,224.2L583.9,224.0L583.5,223.4L583.0,222.6L582.6,221.7L582.2,220.8L581.8,219.7L581.4,219.0L581.0,218.5L580.6,218.4L580.3,218.5L579.9,218.8L579.6,219.4L579.2,220.7L578.9,222.6L578.5,224.3L578.2,225.4L577.9,225.5L577.6,225.1L577.3,224.2L577.0,222.9L576.7,221.1L576.4,218.9L576.1,217.1L575.8,215.7L575.5,214.8L575.3,214.3L575.1,214.2L574.8,214.8L574.5,216.5L574.2,219.1L573.9,222.5L573.6,225.4L573.3,227.8L573.1,230.0L572.8,231.4L572.6,231.4L572.4,229.6L572.1,226.3L571.9,222.3L571.6,218.5L571.3,214.7L571.1,210.4L570.8,206.3L570.6,203.6L570.4,202.3L570.3,201.8L570.2,202.5L570.0,204.5L569.7,208.5L569.4,214.1L569.1,220.4L568.8,227.8L568.5,235.1L568.3,242.8L568.0,249.3L567.8,253.2L567.6,254.1L567.4,252.8L567.2,249.6L567.0,244.7L566.8,237.4L566.5,227.9L566.3,218.1L566.0,211.1L565.7,204.5L565.5,198.1L565.2,192.6L565.0,188.7L564.8,186.8L564.6,186.2L564.4,187.2L564.2,189.7L563.9,194.1L563.6,200.4L563.3,207.6L563.0,214.8L562.7,223.0L562.4,233.6L562.1,243.7L561.8,252.0L561.5,258.3L561.3,263.2L561.0,266.7L560.8,268.9L560.6,269.9L560.4,269.5L560.2,267.7L560.0,264.1L559.7,258.3L559.4,250.6L559.0,241.8L558.6,232.6L558.2,222.4L557.8,213.0L557.4,204.6L557.0,198.0L556.6,193.6L556.3,190.7L555.9,188.8L555.6,187.8L555.3,187.6L555.1,188.2L554.9,189.8L554.6,192.5L554.3,196.4L553.9,201.5L553.4,207.2L553.0,212.9L552.5,219.1L552.0,227.6L551.5,235.8L551.0,242.3L550.6,246.9L550.2,250.1L549.8,252.1L549.4,253.2L549.0,253.3L548.7,252.4L548.4,250.3L548.0,247.1L547.5,242.4L547.0,236.3L546.5,229.5L546.0,222.9L545.5,217.1L545.0,211.8L544.5,206.7L544.0,202.7L543.5,199.8L543.0,197.7L542.5,196.2L542.0,195.2L541.6,194.6L541.3,194.4L541.0,194.9L540.6,196.2L540.2,198.4L539.7,201.5L539.2,205.1L538.6,209.2L538.0,213.9L537.3,219.4L536.6,226.3L536.0,232.6L535.4,238.1L534.7,243.2L534.1,247.5L533.6,250.8L533.2,252.7L532.8,253.5L532.4,253.6L532.0,253.2L531.6,252.6L531.1,251.5L530.6,249.8L530.0,247.1L529.3,243.3L528.6,238.4L527.8,233.1L527.0,227.8L526.2,222.3L525.5,217.2L524.7,212.8L524.0,209.2L523.3,206.4L522.7,204.0L522.2,202.2L521.6,200.8L521.1,199.9L520.6,199.4L520.1,199.3L519.6,199.5L519.1,200.0L518.5,200.8L518.0,202.0L517.4,203.6L516.8,205.9L516.2,208.6L515.6,211.7L515.0,214.8L514.3,218.0L513.5,222.0L512.7,226.4L512.0,230.2L511.3,233.3L510.6,236.0L510.0,238.2L509.4,239.9L508.9,240.9L508.4,241.4L507.9,241.4L507.4,241.1L506.8,240.5L506.3,239.4L505.7,238.0L505.0,236.3L504.3,234.0L503.5,231.3L502.8,228.3L502.0,225.4L501.2,222.4L500.5,219.4L499.8,217.0L499.0,214.8L498.2,212.6L497.4,210.5L496.7,208.7L496.0,207.3L495.5,206.5L495.0,206.2L494.5,206.2L494.0,206.4L493.3,206.9L492.6,207.8L491.8,208.9L491.0,210.1L490.2,211.5L489.5,213.2L488.8,214.9L488.0,216.6L487.2,218.5L486.5,220.7L485.8,223.2L485.0,225.4L484.2,227.2L483.5,228.8L482.8,230.2L482.0,231.4L481.2,232.4L480.4,233.2L479.7,233.7L479.0,233.8L478.5,233.7L478.0,233.2L477.5,232.5L477.0,231.4L476.3,230.0L475.6,228.2L474.8,226.2L474.0,224.2L473.2,222.1L472.5,219.9L471.8,218.2L471.0,216.6L470.2,215.2L469.5,213.7L468.7,212.5L468.0,211.4L467.3,210.7L466.7,210.1L466.0,209.7L465.4,209.6L464.8,209.6L464.2,209.8L463.6,210.1L463.0,210.7L462.3,211.5L461.5,212.5L460.8,213.6L460.0,214.8L459.2,216.1L458.5,217.5L457.8,218.9L457.0,220.5L456.2,222.5L455.5,224.5L454.8,226.3L454.0,227.8L453.2,228.7L452.5,229.3L451.8,229.5L451.0,229.7L450.2,229.8L449.5,229.8L448.8,229.5L448.0,229.0L447.2,228.1L446.5,226.9L445.8,225.5L445.0,224.2L444.2,222.8L443.5,221.3L442.8,219.9L442.0,218.9L441.2,218.0L440.5,217.1L439.7,216.3L439.0,215.7L438.4,215.2L437.8,214.8L437.2,214.6L436.6,214.4L436.0,214.4L435.3,214.5L434.7,214.7L434.0,214.8L433.3,214.8L432.5,214.7L431.8,214.7L431.0,214.8L430.2,215.1L429.5,215.5L428.8,216.0L428.0,216.6L427.2,217.4L426.5,218.3L425.8,219.3L425.0,220.0L424.2,220.7L423.5,221.1L422.8,221.4L422.0,221.7L421.2,222.2L420.5,222.6L419.8,223.0L419.0,223.4L418.3,223.8L417.5,224.2L416.8,224.6L416.0,224.9L415.2,225.2L414.3,225.6L413.4,225.8L412.6,225.8L411.9,225.6L411.3,225.3L410.7,224.7L410.0,224.2L409.3,223.5L408.5,222.6L407.8,221.8L407.0,221.0L406.2,220.4L405.5,219.8L404.8,219.3L404.0,218.9L403.2,218.3L402.5,217.7L401.8,217.1L401.0,216.6L400.2,216.2L399.5,215.8L398.8,215.5L398.0,215.3L397.2,215.5L396.5,215.8L395.8,216.2L395.0,216.6L394.2,217.1L393.5,217.7L392.8,218.3L392.0,218.9L391.2,219.4L390.5,220.0L389.8,220.6L389.0,221.0L388.2,221.1L387.5,220.8L386.8,220.6L386.0,220.5L385.2,220.8L384.5,221.2L383.8,221.6L383.0,221.7L382.2,221.5L381.5,221.1L380.8,220.5L380.0,220.0L379.2,219.7L378.5,219.3L377.8,219.1L377.0,218.9L376.2,218.7L375.5,218.7L374.8,218.7L374.0,218.9L373.2,219.2L372.5,219.7L371.8,220.3L371.0,221.0L370.2,221.7L369.5,222.5L368.8,223.1L368.0,223.4L367.2,223.3L366.5,222.8L365.8,222.3L365.0,221.7L364.2,221.3L363.5,220.8L362.8,220.3L362.0,220.0L361.2,220.1L360.5,220.3L359.8,220.5L359.0,220.5L358.2,220.2L357.5,219.7L356.8,219.2L356.0,218.9L355.3,218.6L354.6,218.4L353.8,218.2L353.0,218.1L352.1,218.1L351.0,218.2L350.0,218.3L349.0,218.5L348.0,218.8L347.0,219.2L346.1,219.7L345.4,220.0L344.9,220.3L344.5,220.4L344.2,220.5L344.0,220.5Z" fill="#c9cfcc"/><path d="M344.0,219.0C344.8,218.7 347.5,217.8 349.0,217.4C350.5,217.0 351.7,216.6 353.0,216.6C354.3,216.6 355.7,216.9 357.0,217.4C358.3,217.9 359.7,219.1 361.0,219.4C362.3,219.7 363.7,218.8 365.0,219.0C366.3,219.2 367.7,221.0 369.0,220.6C370.3,220.2 371.7,217.1 373.0,216.6C374.3,216.1 375.7,216.9 377.0,217.4C378.3,217.9 379.7,218.8 381.0,219.4C382.3,220.0 383.7,220.9 385.0,221.0C386.3,221.1 387.7,220.7 389.0,220.0C390.3,219.3 391.7,218.0 393.0,217.0C394.3,216.0 395.7,214.3 397.0,214.0C398.3,213.7 399.7,214.3 401.0,215.0C402.3,215.7 403.7,216.9 405.0,218.0C406.3,219.1 407.7,220.6 409.0,221.4C410.3,222.2 411.7,222.8 413.0,223.0C414.3,223.2 415.7,223.0 417.0,222.6C418.3,222.2 419.7,221.2 421.0,220.6C422.3,220.0 423.7,219.9 425.0,219.0C426.3,218.1 427.7,216.2 429.0,215.4C430.3,214.6 431.7,214.4 433.0,214.0C434.3,213.6 435.8,212.8 437.0,213.0C438.2,213.2 439.0,214.1 440.0,215.0C441.0,215.9 442.0,217.3 443.0,218.6C444.0,219.9 445.0,221.8 446.0,223.0C447.0,224.2 447.8,225.5 449.0,226.0C450.2,226.5 451.7,227.0 453.0,226.0C454.3,225.0 455.4,222.2 456.6,220.0C457.8,217.8 458.9,214.9 460.0,213.0C461.1,211.1 462.0,209.5 463.0,208.6C464.0,207.7 465.0,207.1 466.0,207.4C467.0,207.7 468.0,209.1 469.0,210.6C470.0,212.1 471.0,214.5 472.0,216.6C473.0,218.7 473.8,221.2 475.0,223.4C476.2,225.6 478.3,228.9 479.0,230.0" fill="none" stroke="#c9cfcc" stroke-width="5" stroke-linejoin="round"/><path d="M344.0,219.0C344.2,218.9 344.6,218.9 345.4,218.6C346.2,218.3 347.7,217.3 349.0,217.0C350.3,216.7 351.8,216.5 353.0,216.6C354.2,216.7 355.0,217.0 356.0,217.4C357.0,217.8 358.0,218.8 359.0,219.0C360.0,219.2 361.0,218.4 362.0,218.6C363.0,218.8 364.0,219.5 365.0,220.0C366.0,220.5 367.0,221.5 368.0,221.4C369.0,221.3 370.0,220.1 371.0,219.4C372.0,218.7 373.0,217.7 374.0,217.4C375.0,217.1 376.0,217.2 377.0,217.4C378.0,217.6 379.0,218.2 380.0,218.6C381.0,219.0 382.0,219.9 383.0,220.0C384.0,220.1 385.0,219.1 386.0,219.0C387.0,218.9 388.0,219.7 389.0,219.4C390.0,219.1 391.0,218.1 392.0,217.4C393.0,216.7 394.0,215.6 395.0,215.0C396.0,214.4 397.0,213.6 398.0,213.6C399.0,213.6 400.0,214.4 401.0,215.0C402.0,215.6 403.0,216.7 404.0,217.4C405.0,218.1 406.0,218.6 407.0,219.4C408.0,220.2 409.1,221.3 410.0,222.0C410.9,222.7 411.6,223.3 412.6,223.4C413.6,223.5 414.9,222.9 416.0,222.6C417.1,222.3 418.0,221.8 419.0,221.4C420.0,221.0 421.0,220.5 422.0,220.0C423.0,219.5 424.0,219.4 425.0,218.6C426.0,217.8 427.0,215.9 428.0,215.0C429.0,214.1 430.0,213.3 431.0,213.0C432.0,212.7 433.1,213.1 434.0,213.0C434.9,212.9 435.8,212.4 436.6,212.6C437.4,212.8 438.1,213.2 439.0,214.0C439.9,214.8 441.0,216.1 442.0,217.4C443.0,218.7 444.0,220.6 445.0,222.0C446.0,223.4 447.0,225.2 448.0,226.0C449.0,226.8 450.0,226.8 451.0,226.6C452.0,226.4 453.0,226.3 454.0,225.0C455.0,223.7 456.0,221.0 457.0,219.0C458.0,217.0 459.0,214.7 460.0,213.0C461.0,211.3 462.1,209.5 463.0,208.6C463.9,207.7 464.6,207.3 465.4,207.4C466.2,207.5 467.1,208.1 468.0,209.4C468.9,210.7 470.0,212.9 471.0,215.0C472.0,217.1 473.0,219.8 474.0,222.0C475.0,224.2 476.2,226.7 477.0,228.0C477.8,229.3 478.2,230.0 479.0,230.0C479.8,230.0 481.0,229.2 482.0,228.0C483.0,226.8 484.0,225.2 485.0,223.0C486.0,220.8 487.0,217.5 488.0,215.0C489.0,212.5 490.0,209.8 491.0,208.0C492.0,206.2 493.2,204.5 494.0,204.0C494.8,203.5 495.2,203.5 496.0,205.0C496.8,206.5 498.0,210.0 499.0,213.0C500.0,216.0 501.0,219.8 502.0,223.0C503.0,226.2 504.1,229.8 505.0,232.0C505.9,234.2 506.7,235.5 507.4,236.0C508.1,236.5 508.6,236.5 509.4,235.0C510.2,233.5 511.1,230.7 512.0,227.0C512.9,223.3 514.1,217.3 515.0,213.0C515.9,208.7 516.6,203.7 517.4,201.0C518.2,198.3 518.9,197.1 519.6,196.6C520.3,196.1 520.9,196.3 521.6,198.0C522.3,199.7 523.1,202.5 524.0,207.0C524.9,211.5 526.0,219.3 527.0,225.0C528.0,230.7 529.2,237.5 530.0,241.0C530.8,244.5 531.4,245.5 532.0,246.0C532.6,246.5 532.9,246.8 533.6,244.0C534.3,241.2 535.2,235.2 536.0,229.0C536.8,222.8 537.8,213.0 538.6,207.0C539.4,201.0 540.0,195.5 540.6,193.0C541.2,190.5 541.4,190.8 542.0,192.0C542.6,193.2 543.3,195.2 544.0,200.0C544.7,204.8 545.3,214.2 546.0,221.0C546.7,227.8 547.4,236.8 548.0,241.0C548.6,245.2 548.9,246.7 549.4,246.0C549.9,245.3 550.4,242.8 551.0,237.0C551.6,231.2 552.4,219.0 553.0,211.0C553.6,203.0 554.2,193.5 554.6,189.0C555.0,184.5 555.2,183.0 555.6,184.0C556.0,185.0 556.5,187.5 557.0,195.0C557.5,202.5 558.1,219.0 558.6,229.0C559.1,239.0 559.6,250.0 560.0,255.0C560.4,260.0 560.5,260.7 560.8,259.0C561.1,257.3 561.4,252.7 561.8,245.0C562.2,237.3 562.6,222.8 563.0,213.0C563.4,203.2 563.9,190.7 564.2,186.0C564.5,181.3 564.7,181.2 565.0,185.0C565.3,188.8 565.7,200.0 566.0,209.0C566.3,218.0 566.7,232.8 567.0,239.0C567.3,245.2 567.5,248.3 567.8,246.0C568.1,243.7 568.4,232.3 568.8,225.0C569.2,217.7 569.7,206.0 570.0,202.0C570.3,198.0 570.3,198.5 570.6,201.0C570.9,203.5 571.3,212.5 571.6,217.0C571.9,221.5 572.3,227.0 572.6,228.0C572.9,229.0 573.2,225.5 573.6,223.0C574.0,220.5 574.4,214.5 574.8,213.0C575.2,211.5 575.4,212.7 575.8,214.0C576.2,215.3 576.6,219.5 577.0,221.0C577.4,222.5 577.8,223.5 578.2,223.0C578.6,222.5 579.1,219.0 579.6,218.0C580.1,217.0 580.5,216.7 581.0,217.0C581.5,217.3 582.0,219.2 582.6,220.0C583.2,220.8 583.7,222.1 584.4,222.0C585.1,221.9 585.8,220.2 586.6,219.4C587.4,218.6 588.1,218.0 589.0,217.4C589.9,216.8 591.0,216.2 592.0,216.0C593.0,215.8 594.0,215.8 595.0,216.0C596.0,216.2 597.1,217.0 598.0,217.4C598.9,217.8 599.8,218.5 600.6,218.6C601.4,218.7 602.2,217.8 603.0,218.0C603.8,218.2 604.6,219.4 605.4,220.0C606.2,220.6 607.1,221.5 608.0,221.4C608.9,221.3 609.8,219.9 610.6,219.4C611.4,218.9 611.9,218.8 613.0,218.6C614.1,218.4 615.7,218.3 617.0,218.2C618.3,218.1 620.3,218.2 621.0,218.2" fill="none" stroke="#c9cfcc" stroke-width="3.6" stroke-linejoin="round"/><path d="M344.0,219.0C344.2,218.9 344.6,218.9 345.4,218.6C346.2,218.3 347.7,217.3 349.0,217.0C350.3,216.7 351.8,216.5 353.0,216.6C354.2,216.7 355.0,217.0 356.0,217.4C357.0,217.8 358.0,218.8 359.0,219.0C360.0,219.2 361.0,218.4 362.0,218.6C363.0,218.8 364.0,219.5 365.0,220.0C366.0,220.5 367.0,221.5 368.0,221.4C369.0,221.3 370.0,220.1 371.0,219.4C372.0,218.7 373.0,217.7 374.0,217.4C375.0,217.1 376.0,217.2 377.0,217.4C378.0,217.6 379.0,218.2 380.0,218.6C381.0,219.0 382.0,219.9 383.0,220.0C384.0,220.1 385.0,219.1 386.0,219.0C387.0,218.9 388.0,219.7 389.0,219.4C390.0,219.1 391.0,218.1 392.0,217.4C393.0,216.7 394.0,215.6 395.0,215.0C396.0,214.4 397.0,213.6 398.0,213.6C399.0,213.6 400.0,214.4 401.0,215.0C402.0,215.6 403.0,216.7 404.0,217.4C405.0,218.1 406.0,218.6 407.0,219.4C408.0,220.2 409.1,221.3 410.0,222.0C410.9,222.7 411.6,223.3 412.6,223.4C413.6,223.5 414.9,222.9 416.0,222.6C417.1,222.3 418.0,221.8 419.0,221.4C420.0,221.0 421.0,220.5 422.0,220.0C423.0,219.5 424.0,219.4 425.0,218.6C426.0,217.8 427.0,215.9 428.0,215.0C429.0,214.1 430.0,213.3 431.0,213.0C432.0,212.7 433.1,213.1 434.0,213.0C434.9,212.9 435.8,212.4 436.6,212.6C437.4,212.8 438.1,213.2 439.0,214.0C439.9,214.8 441.0,216.1 442.0,217.4C443.0,218.7 444.0,220.6 445.0,222.0C446.0,223.4 447.0,225.2 448.0,226.0C449.0,226.8 450.0,226.8 451.0,226.6C452.0,226.4 453.0,226.3 454.0,225.0C455.0,223.7 456.0,221.0 457.0,219.0C458.0,217.0 459.0,214.7 460.0,213.0C461.0,211.3 462.1,209.5 463.0,208.6C463.9,207.7 464.6,207.3 465.4,207.4C466.2,207.5 467.1,208.1 468.0,209.4C468.9,210.7 470.0,212.9 471.0,215.0C472.0,217.1 473.0,219.8 474.0,222.0C475.0,224.2 476.2,226.7 477.0,228.0C477.8,229.3 478.2,230.0 479.0,230.0C479.8,230.0 481.0,229.2 482.0,228.0C483.0,226.8 484.0,225.2 485.0,223.0C486.0,220.8 487.0,217.5 488.0,215.0C489.0,212.5 490.0,209.8 491.0,208.0C492.0,206.2 493.2,204.5 494.0,204.0C494.8,203.5 495.2,203.5 496.0,205.0C496.8,206.5 498.0,210.0 499.0,213.0C500.0,216.0 501.0,219.8 502.0,223.0C503.0,226.2 504.1,229.8 505.0,232.0C505.9,234.2 506.7,235.5 507.4,236.0C508.1,236.5 508.6,236.5 509.4,235.0C510.2,233.5 511.1,230.7 512.0,227.0C512.9,223.3 514.1,217.3 515.0,213.0C515.9,208.7 516.6,203.7 517.4,201.0C518.2,198.3 518.9,197.1 519.6,196.6C520.3,196.1 520.9,196.3 521.6,198.0C522.3,199.7 523.1,202.5 524.0,207.0C524.9,211.5 526.0,219.3 527.0,225.0C528.0,230.7 529.2,237.5 530.0,241.0C530.8,244.5 531.4,245.5 532.0,246.0C532.6,246.5 532.9,246.8 533.6,244.0C534.3,241.2 535.2,235.2 536.0,229.0C536.8,222.8 537.8,213.0 538.6,207.0C539.4,201.0 540.0,195.5 540.6,193.0C541.2,190.5 541.4,190.8 542.0,192.0C542.6,193.2 543.3,195.2 544.0,200.0C544.7,204.8 545.3,214.2 546.0,221.0C546.7,227.8 547.4,236.8 548.0,241.0C548.6,245.2 548.9,246.7 549.4,246.0C549.9,245.3 550.4,242.8 551.0,237.0C551.6,231.2 552.4,219.0 553.0,211.0C553.6,203.0 554.2,193.5 554.6,189.0C555.0,184.5 555.2,183.0 555.6,184.0C556.0,185.0 556.5,187.5 557.0,195.0C557.5,202.5 558.1,219.0 558.6,229.0C559.1,239.0 559.6,250.0 560.0,255.0C560.4,260.0 560.5,260.7 560.8,259.0C561.1,257.3 561.4,252.7 561.8,245.0C562.2,237.3 562.6,222.8 563.0,213.0C563.4,203.2 563.9,190.7 564.2,186.0C564.5,181.3 564.7,181.2 565.0,185.0C565.3,188.8 565.7,200.0 566.0,209.0C566.3,218.0 566.7,232.8 567.0,239.0C567.3,245.2 567.5,248.3 567.8,246.0C568.1,243.7 568.4,232.3 568.8,225.0C569.2,217.7 569.7,206.0 570.0,202.0C570.3,198.0 570.3,198.5 570.6,201.0C570.9,203.5 571.3,212.5 571.6,217.0C571.9,221.5 572.3,227.0 572.6,228.0C572.9,229.0 573.2,225.5 573.6,223.0C574.0,220.5 574.4,214.5 574.8,213.0C575.2,211.5 575.4,212.7 575.8,214.0C576.2,215.3 576.6,219.5 577.0,221.0C577.4,222.5 577.8,223.5 578.2,223.0C578.6,222.5 579.1,219.0 579.6,218.0C580.1,217.0 580.5,216.7 581.0,217.0C581.5,217.3 582.0,219.2 582.6,220.0C583.2,220.8 583.7,222.1 584.4,222.0C585.1,221.9 585.8,220.2 586.6,219.4C587.4,218.6 588.1,218.0 589.0,217.4C589.9,216.8 591.0,216.2 592.0,216.0C593.0,215.8 594.0,215.8 595.0,216.0C596.0,216.2 597.1,217.0 598.0,217.4C598.9,217.8 599.8,218.5 600.6,218.6C601.4,218.7 602.2,217.8 603.0,218.0C603.8,218.2 604.6,219.4 605.4,220.0C606.2,220.6 607.1,221.5 608.0,221.4C608.9,221.3 609.8,219.9 610.6,219.4C611.4,218.9 611.9,218.8 613.0,218.6C614.1,218.4 615.7,218.3 617.0,218.2C618.3,218.1 620.3,218.2 621.0,218.2" fill="none" stroke="#8f9693" stroke-width="2.4" stroke-linejoin="round"/><path d="M344.0,219.0C344.2,218.9 344.6,218.9 345.4,218.6C346.2,218.3 347.7,217.3 349.0,217.0C350.3,216.7 351.8,216.5 353.0,216.6C354.2,216.7 355.0,217.0 356.0,217.4C357.0,217.8 358.0,218.8 359.0,219.0C360.0,219.2 361.0,218.4 362.0,218.6C363.0,218.8 364.0,219.5 365.0,220.0C366.0,220.5 367.0,221.5 368.0,221.4C369.0,221.3 370.0,220.1 371.0,219.4C372.0,218.7 373.0,217.7 374.0,217.4C375.0,217.1 376.0,217.2 377.0,217.4C378.0,217.6 379.0,218.2 380.0,218.6C381.0,219.0 382.0,219.9 383.0,220.0C384.0,220.1 385.0,219.1 386.0,219.0C387.0,218.9 388.0,219.7 389.0,219.4C390.0,219.1 391.0,218.1 392.0,217.4C393.0,216.7 394.0,215.6 395.0,215.0C396.0,214.4 397.0,213.6 398.0,213.6C399.0,213.6 400.0,214.4 401.0,215.0C402.0,215.6 403.0,216.7 404.0,217.4C405.0,218.1 406.0,218.6 407.0,219.4C408.0,220.2 409.1,221.3 410.0,222.0C410.9,222.7 411.6,223.3 412.6,223.4C413.6,223.5 414.9,222.9 416.0,222.6C417.1,222.3 418.0,221.8 419.0,221.4C420.0,221.0 421.0,220.5 422.0,220.0C423.0,219.5 424.0,219.4 425.0,218.6C426.0,217.8 427.0,215.9 428.0,215.0C429.0,214.1 430.0,213.3 431.0,213.0C432.0,212.7 433.1,213.1 434.0,213.0C434.9,212.9 435.8,212.4 436.6,212.6C437.4,212.8 438.1,213.2 439.0,214.0C439.9,214.8 441.0,216.1 442.0,217.4C443.0,218.7 444.0,220.6 445.0,222.0C446.0,223.4 447.0,225.2 448.0,226.0C449.0,226.8 450.0,226.8 451.0,226.6C452.0,226.4 453.0,226.3 454.0,225.0C455.0,223.7 456.0,221.0 457.0,219.0C458.0,217.0 459.0,214.7 460.0,213.0C461.0,211.3 462.1,209.5 463.0,208.6C463.9,207.7 464.6,207.3 465.4,207.4C466.2,207.5 467.1,208.1 468.0,209.4C468.9,210.7 470.0,212.9 471.0,215.0C472.0,217.1 473.0,219.8 474.0,222.0C475.0,224.2 476.2,226.7 477.0,228.0C477.8,229.3 478.2,230.0 479.0,230.0C479.8,230.0 481.0,229.2 482.0,228.0C483.0,226.8 484.0,225.2 485.0,223.0C486.0,220.8 487.0,217.5 488.0,215.0C489.0,212.5 490.0,209.8 491.0,208.0C492.0,206.2 493.2,204.5 494.0,204.0C494.8,203.5 495.2,203.5 496.0,205.0C496.8,206.5 498.0,210.0 499.0,213.0C500.0,216.0 501.0,219.8 502.0,223.0C503.0,226.2 504.1,229.8 505.0,232.0C505.9,234.2 506.7,235.5 507.4,236.0C508.1,236.5 508.6,236.5 509.4,235.0C510.2,233.5 511.1,230.7 512.0,227.0C512.9,223.3 514.1,217.3 515.0,213.0C515.9,208.7 516.6,203.7 517.4,201.0C518.2,198.3 518.9,197.1 519.6,196.6C520.3,196.1 520.9,196.3 521.6,198.0C522.3,199.7 523.1,202.5 524.0,207.0C524.9,211.5 526.0,219.3 527.0,225.0C528.0,230.7 529.2,237.5 530.0,241.0C530.8,244.5 531.4,245.5 532.0,246.0C532.6,246.5 532.9,246.8 533.6,244.0C534.3,241.2 535.2,235.2 536.0,229.0C536.8,222.8 537.8,213.0 538.6,207.0C539.4,201.0 540.0,195.5 540.6,193.0C541.2,190.5 541.4,190.8 542.0,192.0C542.6,193.2 543.3,195.2 544.0,200.0C544.7,204.8 545.3,214.2 546.0,221.0C546.7,227.8 547.4,236.8 548.0,241.0C548.6,245.2 548.9,246.7 549.4,246.0C549.9,245.3 550.4,242.8 551.0,237.0C551.6,231.2 552.4,219.0 553.0,211.0C553.6,203.0 554.2,193.5 554.6,189.0C555.0,184.5 555.2,183.0 555.6,184.0C556.0,185.0 556.5,187.5 557.0,195.0C557.5,202.5 558.1,219.0 558.6,229.0C559.1,239.0 559.6,250.0 560.0,255.0C560.4,260.0 560.5,260.7 560.8,259.0C561.1,257.3 561.4,252.7 561.8,245.0C562.2,237.3 562.6,222.8 563.0,213.0C563.4,203.2 563.9,190.7 564.2,186.0C564.5,181.3 564.7,181.2 565.0,185.0C565.3,188.8 565.7,200.0 566.0,209.0C566.3,218.0 566.7,232.8 567.0,239.0C567.3,245.2 567.5,248.3 567.8,246.0C568.1,243.7 568.4,232.3 568.8,225.0C569.2,217.7 569.7,206.0 570.0,202.0C570.3,198.0 570.3,198.5 570.6,201.0C570.9,203.5 571.3,212.5 571.6,217.0C571.9,221.5 572.3,227.0 572.6,228.0C572.9,229.0 573.2,225.5 573.6,223.0C574.0,220.5 574.4,214.5 574.8,213.0C575.2,211.5 575.4,212.7 575.8,214.0C576.2,215.3 576.6,219.5 577.0,221.0C577.4,222.5 577.8,223.5 578.2,223.0C578.6,222.5 579.1,219.0 579.6,218.0C580.1,217.0 580.5,216.7 581.0,217.0C581.5,217.3 582.0,219.2 582.6,220.0C583.2,220.8 583.7,222.1 584.4,222.0C585.1,221.9 585.8,220.2 586.6,219.4C587.4,218.6 588.1,218.0 589.0,217.4C589.9,216.8 591.0,216.2 592.0,216.0C593.0,215.8 594.0,215.8 595.0,216.0C596.0,216.2 597.1,217.0 598.0,217.4C598.9,217.8 599.8,218.5 600.6,218.6C601.4,218.7 602.2,217.8 603.0,218.0C603.8,218.2 604.6,219.4 605.4,220.0C606.2,220.6 607.1,221.5 608.0,221.4C608.9,221.3 609.8,219.9 610.6,219.4C611.4,218.9 611.9,218.8 613.0,218.6C614.1,218.4 615.7,218.3 617.0,218.2C618.3,218.1 620.3,218.2 621.0,218.2" fill="none" stroke="#3f5a7e" stroke-width="1.25" stroke-linejoin="round"/></g>
<path d="M131.2,164 v5.5 M131.2,293.7 v-5.5" stroke="#111" stroke-width="1.6" fill="none"/><path d="M196.5,164 v5.5 M196.5,293.7 v-5.5" stroke="#111" stroke-width="1.6" fill="none"/><path d="M261.8,164 v5.5 M261.8,293.7 v-5.5" stroke="#111" stroke-width="1.6" fill="none"/><path d="M327.1,164 v5.5 M327.1,293.7 v-5.5" stroke="#111" stroke-width="1.6" fill="none"/><path d="M66,178.0 h5.5 M340,178.0 h-5.5" stroke="#111" stroke-width="1.6" fill="none"/><path d="M66,198.3 h5.5 M340,198.3 h-5.5" stroke="#111" stroke-width="1.6" fill="none"/><path d="M66,218.7 h5.5 M340,218.7 h-5.5" stroke="#111" stroke-width="1.6" fill="none"/><path d="M66,239.1 h5.5 M340,239.1 h-5.5" stroke="#111" stroke-width="1.6" fill="none"/><path d="M66,259.4 h5.5 M340,259.4 h-5.5" stroke="#111" stroke-width="1.6" fill="none"/>
<path d="M410.1,164 v5.5 M410.1,293.7 v-5.5" stroke="#111" stroke-width="1.6" fill="none"/><path d="M475.1,164 v5.5 M475.1,293.7 v-5.5" stroke="#111" stroke-width="1.6" fill="none"/><path d="M540.0,164 v5.5 M540.0,293.7 v-5.5" stroke="#111" stroke-width="1.6" fill="none"/><path d="M605.0,164 v5.5 M605.0,293.7 v-5.5" stroke="#111" stroke-width="1.6" fill="none"/><path d="M345.1,178.0 h5.5 M618.1,178.0 h-5.5" stroke="#111" stroke-width="1.6" fill="none"/><path d="M345.1,198.3 h5.5 M618.1,198.3 h-5.5" stroke="#111" stroke-width="1.6" fill="none"/><path d="M345.1,218.7 h5.5 M618.1,218.7 h-5.5" stroke="#111" stroke-width="1.6" fill="none"/><path d="M345.1,239.1 h5.5 M618.1,239.1 h-5.5" stroke="#111" stroke-width="1.6" fill="none"/><path d="M345.1,259.4 h5.5 M618.1,259.4 h-5.5" stroke="#111" stroke-width="1.6" fill="none"/>
<rect x="70.5" y="251.6" width="132.8" height="39.2" fill="#f2fcf9" stroke="#4a4a4a" stroke-width="1"/><line x1="74.3" y1="258.0" x2="88.5" y2="258.0" stroke="#b2423a" stroke-width="1.5"/><text style="stroke-width:0.12px" x="92.0" y="261.3" font-size="9.5" textLength="82.4" lengthAdjust="spacingAndGlyphs" fill="#1c1c1c">Numerical relativity</text><rect x="71.9" y="267.2" width="17.6" height="6.6" fill="#c9cfcc"/><text style="stroke-width:0.12px" x="92.0" y="273.8" font-size="9.5" textLength="103.1" lengthAdjust="spacingAndGlyphs" fill="#1c1c1c">Reconstructed (wavelet)</text><rect x="71.9" y="279.7" width="17.6" height="6.6" fill="#8f9693"/><text style="stroke-width:0.12px" x="92.0" y="286.3" font-size="9.5" textLength="108.3" lengthAdjust="spacingAndGlyphs" fill="#1c1c1c">Reconstructed (template)</text>
<rect x="348.8" y="251.6" width="132.8" height="39.2" fill="#f2fcf9" stroke="#4a4a4a" stroke-width="1"/><line x1="352.6" y1="258.0" x2="366.8" y2="258.0" stroke="#3f5a7e" stroke-width="1.5"/><text style="stroke-width:0.12px" x="370.3" y="261.3" font-size="9.5" textLength="83.1" lengthAdjust="spacingAndGlyphs" fill="#1c1c1c">Numerical relativity</text><rect x="350.2" y="267.2" width="17.6" height="6.6" fill="#c9cfcc"/><text style="stroke-width:0.12px" x="370.3" y="273.8" font-size="9.5" textLength="103.8" lengthAdjust="spacingAndGlyphs" fill="#1c1c1c">Reconstructed (wavelet)</text><rect x="350.2" y="279.7" width="17.6" height="6.6" fill="#8f9693"/><text style="stroke-width:0.12px" x="370.3" y="286.3" font-size="9.5" textLength="109.0" lengthAdjust="spacingAndGlyphs" fill="#1c1c1c">Reconstructed (template)</text>
<rect x="66" y="164" width="274" height="129.7" fill="none" stroke="#111" stroke-width="2"/>
<rect x="345.1" y="164" width="273" height="129.7" fill="none" stroke="#111" stroke-width="2"/>
<line x1="131.2" y1="298.8" x2="131.2" y2="361.8" stroke="#dde7e3" stroke-width="1"/><line x1="196.5" y1="298.8" x2="196.5" y2="361.8" stroke="#dde7e3" stroke-width="1"/><line x1="261.8" y1="298.8" x2="261.8" y2="361.8" stroke="#dde7e3" stroke-width="1"/><line x1="327.1" y1="298.8" x2="327.1" y2="361.8" stroke="#dde7e3" stroke-width="1"/><line x1="66" y1="301.9" x2="340" y2="301.9" stroke="#dde7e3" stroke-width="1"/><line x1="66" y1="322.1" x2="340" y2="322.1" stroke="#dde7e3" stroke-width="1"/><line x1="66" y1="342.3" x2="340" y2="342.3" stroke="#dde7e3" stroke-width="1"/>
<line x1="410.1" y1="298.8" x2="410.1" y2="361.8" stroke="#dde7e3" stroke-width="1"/><line x1="475.1" y1="298.8" x2="475.1" y2="361.8" stroke="#dde7e3" stroke-width="1"/><line x1="540.0" y1="298.8" x2="540.0" y2="361.8" stroke="#dde7e3" stroke-width="1"/><line x1="605.0" y1="298.8" x2="605.0" y2="361.8" stroke="#dde7e3" stroke-width="1"/><line x1="345.1" y1="301.9" x2="618.1" y2="301.9" stroke="#dde7e3" stroke-width="1"/><line x1="345.1" y1="322.1" x2="618.1" y2="322.1" stroke="#dde7e3" stroke-width="1"/><line x1="345.1" y1="342.3" x2="618.1" y2="342.3" stroke="#dde7e3" stroke-width="1"/>
<g clip-path="url(#cl2)"><path d="M64.7,322.2C65.0,322.1 65.7,321.3 66.2,321.5C66.8,321.6 67.6,322.1 68.2,323.0C68.8,323.8 69.2,327.0 69.7,326.7C70.2,326.5 70.7,322.6 71.2,321.5C71.7,320.3 72.2,319.0 72.7,320.0C73.2,321.0 73.6,328.7 74.2,327.5C74.7,326.2 75.4,313.5 76.0,312.5C76.5,311.5 77.0,318.3 77.5,321.5C78.0,324.6 78.4,330.9 79.0,331.2C79.5,331.4 80.2,324.8 80.8,323.0C81.3,321.1 81.8,321.2 82.3,320.0C82.8,318.7 83.3,315.1 83.8,315.5C84.3,315.8 84.8,320.2 85.3,322.2C85.7,324.2 86.0,328.8 86.5,327.5C86.9,326.1 87.5,318.0 88.0,314.0C88.5,310.0 89.0,302.7 89.5,303.5C89.9,304.2 90.2,312.5 90.7,318.5C91.1,324.5 91.6,338.2 92.0,339.4C92.4,340.7 92.8,329.7 93.2,326.0C93.6,322.2 94.0,317.0 94.4,317.0C94.8,317.0 95.4,323.1 95.8,326.0C96.1,328.8 96.3,334.7 96.7,334.2C97.1,333.7 97.6,326.1 98.1,323.0C98.7,319.8 99.3,318.3 99.9,315.5C100.5,312.7 101.2,305.9 101.7,306.2C102.3,306.4 102.7,313.8 103.2,317.0C103.7,320.1 104.3,324.5 104.7,325.2C105.2,326.0 105.5,321.0 105.9,321.5C106.4,322.0 106.9,329.0 107.4,328.2C107.9,327.5 108.5,317.3 108.9,317.0C109.4,316.6 109.6,322.1 110.1,326.0C110.6,329.8 111.4,339.1 111.9,339.9C112.5,340.6 112.9,334.5 113.4,330.4C114.0,326.4 114.7,319.7 115.2,315.5C115.8,311.3 116.2,305.8 116.7,305.3C117.2,304.8 117.8,310.9 118.2,312.5C118.7,314.0 119.0,315.1 119.4,314.7C119.8,314.3 120.2,308.9 120.6,310.2C121.1,311.6 121.5,318.1 122.1,323.0C122.7,327.8 123.6,337.6 124.2,339.1C124.8,340.6 125.3,334.1 125.7,331.9C126.2,329.8 126.5,327.1 126.9,326.0C127.4,324.8 127.9,326.1 128.4,325.2C128.9,324.3 129.4,322.6 129.9,320.7C130.4,318.8 130.9,315.5 131.4,314.0C131.9,312.5 132.4,311.2 132.9,311.7C133.4,312.2 133.9,315.1 134.4,317.0C134.9,318.8 135.4,322.2 135.9,323.0C136.4,323.8 136.9,321.8 137.4,321.8C137.9,321.8 138.4,322.9 138.9,323.0C139.4,323.0 139.9,322.2 140.4,322.2C140.9,322.2 141.4,322.5 141.9,323.0C142.4,323.5 142.9,324.5 143.4,325.2C143.9,326.0 144.4,327.6 144.9,327.5C145.4,327.3 145.9,326.2 146.4,324.5C146.9,322.7 147.4,318.9 147.9,317.0C148.4,315.0 148.9,312.7 149.4,312.9C149.9,313.2 150.4,316.3 150.9,318.5C151.4,320.6 151.9,324.2 152.4,326.0C152.8,327.7 153.1,329.7 153.6,329.0C154.0,328.2 154.6,322.3 155.1,321.5C155.5,320.6 155.7,323.0 156.1,323.7C156.5,324.5 157.1,326.8 157.6,326.0C158.1,325.1 158.6,318.6 159.1,318.5C159.6,318.3 160.1,325.3 160.6,325.2C161.1,325.1 161.6,318.2 162.1,317.7C162.6,317.2 163.1,320.3 163.6,322.2C164.1,324.1 165.0,329.1 165.1,329.0C165.2,328.8 164.0,321.6 164.0,321.5C164.0,321.3 164.7,328.3 165.2,328.2C165.6,328.1 166.2,321.7 166.7,320.7C167.2,319.7 167.7,322.2 168.2,322.2C168.7,322.2 169.2,321.8 169.7,320.7C170.2,319.6 170.8,316.5 171.2,315.5C171.6,314.5 171.8,313.7 172.2,314.7C172.7,315.7 173.2,319.6 173.7,321.5C174.2,323.3 174.7,325.1 175.2,326.0C175.8,326.8 176.6,327.5 177.2,326.7C177.8,326.0 178.2,323.0 178.7,321.5C179.2,320.0 179.7,318.1 180.2,317.7C180.7,317.3 181.2,319.3 181.7,319.2C182.2,319.1 182.7,316.7 183.2,317.0C183.7,317.2 184.2,319.6 184.7,320.7C185.2,321.8 185.7,322.8 186.2,323.7C186.7,324.6 187.1,326.1 187.7,326.0C188.2,325.8 188.9,323.2 189.5,323.0C190.0,322.7 190.4,325.1 191.0,324.5C191.5,323.8 192.3,319.2 192.8,319.2C193.3,319.2 193.5,322.3 194.0,324.5C194.5,326.6 195.2,331.9 195.8,331.9C196.3,331.9 196.7,327.2 197.3,324.5C197.8,321.7 198.6,317.7 199.2,315.5C199.8,313.2 200.2,311.7 200.7,311.0C201.2,310.2 201.7,310.0 202.2,311.0C202.7,312.0 203.2,314.8 203.7,317.0C204.2,319.1 204.7,321.3 205.2,323.7C205.7,326.1 206.2,329.7 206.7,331.2C207.2,332.7 207.7,332.6 208.2,332.7C208.7,332.8 209.3,333.7 209.7,331.9C210.1,330.2 210.3,325.8 210.7,322.2C211.2,318.7 211.7,311.8 212.2,310.7C212.7,309.6 213.3,314.2 213.7,315.5C214.2,316.8 214.5,318.8 214.9,318.5C215.4,318.2 215.9,313.7 216.4,313.7C216.9,313.7 217.4,317.3 217.9,318.5C218.5,319.6 219.2,319.0 219.7,320.7C220.3,322.5 220.7,326.5 221.2,329.0C221.7,331.4 222.2,335.0 222.7,335.2C223.2,335.5 223.7,332.2 224.2,330.4C224.7,328.7 225.3,325.2 225.7,324.5C226.2,323.7 226.5,325.2 226.9,326.0C227.4,326.7 227.9,329.1 228.4,329.0C228.9,328.8 229.4,326.3 229.9,325.2C230.4,324.1 230.9,323.6 231.4,322.2C231.9,320.8 232.3,318.5 232.9,317.0C233.4,315.4 234.1,313.4 234.7,312.8C235.2,312.2 235.7,312.8 236.2,313.2C236.7,313.7 237.2,314.5 237.7,315.5C238.2,316.5 238.7,318.5 239.2,319.2C239.7,320.0 240.2,318.8 240.7,320.0C241.2,321.1 241.7,324.0 242.2,326.0C242.7,328.0 243.2,332.2 243.7,331.9C244.1,331.7 244.5,327.0 244.9,324.5C245.3,322.0 245.6,316.2 246.1,317.0C246.5,317.7 247.1,325.6 247.6,329.0C248.0,332.3 248.4,338.4 248.8,337.2C249.2,335.9 249.6,325.8 250.0,321.5C250.4,317.1 250.8,311.5 251.2,311.0C251.6,310.5 252.0,318.2 252.4,318.5C252.8,318.7 253.2,314.5 253.6,312.5C254.0,310.4 254.4,306.1 254.8,306.2C255.2,306.3 255.6,310.4 256.0,313.2C256.4,316.0 256.8,320.6 257.2,323.0C257.5,325.3 257.7,328.2 258.1,327.5C258.4,326.7 258.9,319.5 259.3,318.5C259.6,317.5 259.8,319.3 260.2,321.5C260.5,323.6 261.0,329.3 261.4,331.2C261.7,333.1 261.9,334.3 262.3,332.7C262.6,331.1 263.1,324.8 263.5,321.5C263.8,318.1 263.9,311.3 264.3,312.5C264.6,313.8 265.1,324.0 265.6,329.0C266.0,334.1 266.5,342.5 266.9,342.9C267.3,343.4 267.8,333.9 268.2,331.7C268.7,329.5 269.1,329.7 269.5,329.7C269.9,329.7 270.2,332.7 270.6,331.7C271.0,330.7 271.4,326.5 271.9,323.8C272.4,321.0 272.9,317.5 273.5,315.2C274.1,312.8 274.9,309.9 275.5,309.5C276.0,309.0 276.4,310.4 276.8,312.5C277.2,314.7 277.8,320.4 278.1,322.4C278.5,324.4 278.5,325.4 278.8,324.4C279.1,323.4 279.4,317.4 279.8,316.5C280.2,315.6 280.7,317.7 281.2,319.1C281.6,320.6 282.0,324.9 282.5,325.3C283.0,325.8 283.5,322.8 284.1,321.8C284.6,320.7 285.2,320.7 285.7,319.1C286.1,317.6 286.6,314.1 287.0,312.5C287.4,311.0 287.7,309.8 288.0,309.9C288.4,310.0 288.7,311.1 289.1,313.2C289.5,315.3 290.0,320.0 290.4,322.4C290.9,324.9 291.3,327.9 291.7,327.7C292.2,327.5 292.7,322.4 293.1,321.1C293.4,319.8 293.6,319.0 294.0,319.8C294.4,320.6 294.9,323.7 295.3,325.7C295.7,327.8 296.2,331.9 296.6,331.9C297.1,331.9 297.5,327.0 298.0,325.7C298.4,324.5 298.8,324.3 299.3,324.4C299.7,324.5 300.2,327.6 300.6,326.4C301.0,325.2 301.5,319.0 301.9,317.1C302.3,315.3 302.5,314.3 302.8,315.2C303.2,316.0 303.5,320.0 303.9,322.4C304.3,324.9 304.6,329.7 305.0,329.7C305.3,329.7 305.7,324.5 306.0,322.4C306.3,320.3 306.6,317.8 306.9,317.1C307.3,316.5 307.8,318.5 308.3,318.5C308.7,318.5 309.0,316.9 309.4,317.1C309.9,317.4 310.3,319.0 310.8,319.8C311.2,320.6 311.7,322.4 312.1,321.8C312.5,321.1 312.8,316.4 313.1,315.8C313.5,315.3 313.8,316.5 314.2,318.5C314.6,320.4 315.2,325.4 315.5,327.7C315.9,330.0 316.1,332.6 316.5,332.3C316.8,332.1 317.3,328.2 317.8,326.4C318.2,324.6 318.7,321.7 319.1,321.8C319.5,321.9 320.0,325.3 320.4,327.1C320.9,328.8 321.3,332.7 321.7,332.3C322.2,332.0 322.6,328.0 323.1,325.1C323.5,322.1 323.9,317.0 324.4,314.5C324.8,312.0 325.3,309.7 325.7,309.9C326.1,310.1 326.6,314.5 327.0,315.8C327.5,317.1 327.9,315.9 328.3,317.8C328.8,319.7 329.3,324.4 329.7,327.1C330.0,329.7 330.3,334.2 330.6,333.7C330.9,333.1 331.3,326.9 331.7,323.8C332.0,320.6 332.6,316.3 333.0,314.5C333.3,312.7 333.6,312.5 333.9,312.9C334.2,313.4 334.6,315.7 335.0,317.1C335.3,318.6 335.6,321.1 335.9,321.8C336.2,322.4 336.5,320.9 336.9,321.1C337.3,321.3 337.8,323.2 338.3,323.1C338.7,323.0 338.9,320.8 339.6,320.4C340.2,320.1 341.8,321.0 342.2,321.1" fill="none" stroke="#f05048" stroke-width="3" stroke-linejoin="round" opacity="0.35"/><path d="M64.7,322.2C65.0,322.1 65.7,321.3 66.2,321.5C66.8,321.6 67.6,322.1 68.2,323.0C68.8,323.8 69.2,327.0 69.7,326.7C70.2,326.5 70.7,322.6 71.2,321.5C71.7,320.3 72.2,319.0 72.7,320.0C73.2,321.0 73.6,328.7 74.2,327.5C74.7,326.2 75.4,313.5 76.0,312.5C76.5,311.5 77.0,318.3 77.5,321.5C78.0,324.6 78.4,330.9 79.0,331.2C79.5,331.4 80.2,324.8 80.8,323.0C81.3,321.1 81.8,321.2 82.3,320.0C82.8,318.7 83.3,315.1 83.8,315.5C84.3,315.8 84.8,320.2 85.3,322.2C85.7,324.2 86.0,328.8 86.5,327.5C86.9,326.1 87.5,318.0 88.0,314.0C88.5,310.0 89.0,302.7 89.5,303.5C89.9,304.2 90.2,312.5 90.7,318.5C91.1,324.5 91.6,338.2 92.0,339.4C92.4,340.7 92.8,329.7 93.2,326.0C93.6,322.2 94.0,317.0 94.4,317.0C94.8,317.0 95.4,323.1 95.8,326.0C96.1,328.8 96.3,334.7 96.7,334.2C97.1,333.7 97.6,326.1 98.1,323.0C98.7,319.8 99.3,318.3 99.9,315.5C100.5,312.7 101.2,305.9 101.7,306.2C102.3,306.4 102.7,313.8 103.2,317.0C103.7,320.1 104.3,324.5 104.7,325.2C105.2,326.0 105.5,321.0 105.9,321.5C106.4,322.0 106.9,329.0 107.4,328.2C107.9,327.5 108.5,317.3 108.9,317.0C109.4,316.6 109.6,322.1 110.1,326.0C110.6,329.8 111.4,339.1 111.9,339.9C112.5,340.6 112.9,334.5 113.4,330.4C114.0,326.4 114.7,319.7 115.2,315.5C115.8,311.3 116.2,305.8 116.7,305.3C117.2,304.8 117.8,310.9 118.2,312.5C118.7,314.0 119.0,315.1 119.4,314.7C119.8,314.3 120.2,308.9 120.6,310.2C121.1,311.6 121.5,318.1 122.1,323.0C122.7,327.8 123.6,337.6 124.2,339.1C124.8,340.6 125.3,334.1 125.7,331.9C126.2,329.8 126.5,327.1 126.9,326.0C127.4,324.8 127.9,326.1 128.4,325.2C128.9,324.3 129.4,322.6 129.9,320.7C130.4,318.8 130.9,315.5 131.4,314.0C131.9,312.5 132.4,311.2 132.9,311.7C133.4,312.2 133.9,315.1 134.4,317.0C134.9,318.8 135.4,322.2 135.9,323.0C136.4,323.8 136.9,321.8 137.4,321.8C137.9,321.8 138.4,322.9 138.9,323.0C139.4,323.0 139.9,322.2 140.4,322.2C140.9,322.2 141.4,322.5 141.9,323.0C142.4,323.5 142.9,324.5 143.4,325.2C143.9,326.0 144.4,327.6 144.9,327.5C145.4,327.3 145.9,326.2 146.4,324.5C146.9,322.7 147.4,318.9 147.9,317.0C148.4,315.0 148.9,312.7 149.4,312.9C149.9,313.2 150.4,316.3 150.9,318.5C151.4,320.6 151.9,324.2 152.4,326.0C152.8,327.7 153.1,329.7 153.6,329.0C154.0,328.2 154.6,322.3 155.1,321.5C155.5,320.6 155.7,323.0 156.1,323.7C156.5,324.5 157.1,326.8 157.6,326.0C158.1,325.1 158.6,318.6 159.1,318.5C159.6,318.3 160.1,325.3 160.6,325.2C161.1,325.1 161.6,318.2 162.1,317.7C162.6,317.2 163.1,320.3 163.6,322.2C164.1,324.1 165.0,329.1 165.1,329.0C165.2,328.8 164.0,321.6 164.0,321.5C164.0,321.3 164.7,328.3 165.2,328.2C165.6,328.1 166.2,321.7 166.7,320.7C167.2,319.7 167.7,322.2 168.2,322.2C168.7,322.2 169.2,321.8 169.7,320.7C170.2,319.6 170.8,316.5 171.2,315.5C171.6,314.5 171.8,313.7 172.2,314.7C172.7,315.7 173.2,319.6 173.7,321.5C174.2,323.3 174.7,325.1 175.2,326.0C175.8,326.8 176.6,327.5 177.2,326.7C177.8,326.0 178.2,323.0 178.7,321.5C179.2,320.0 179.7,318.1 180.2,317.7C180.7,317.3 181.2,319.3 181.7,319.2C182.2,319.1 182.7,316.7 183.2,317.0C183.7,317.2 184.2,319.6 184.7,320.7C185.2,321.8 185.7,322.8 186.2,323.7C186.7,324.6 187.1,326.1 187.7,326.0C188.2,325.8 188.9,323.2 189.5,323.0C190.0,322.7 190.4,325.1 191.0,324.5C191.5,323.8 192.3,319.2 192.8,319.2C193.3,319.2 193.5,322.3 194.0,324.5C194.5,326.6 195.2,331.9 195.8,331.9C196.3,331.9 196.7,327.2 197.3,324.5C197.8,321.7 198.6,317.7 199.2,315.5C199.8,313.2 200.2,311.7 200.7,311.0C201.2,310.2 201.7,310.0 202.2,311.0C202.7,312.0 203.2,314.8 203.7,317.0C204.2,319.1 204.7,321.3 205.2,323.7C205.7,326.1 206.2,329.7 206.7,331.2C207.2,332.7 207.7,332.6 208.2,332.7C208.7,332.8 209.3,333.7 209.7,331.9C210.1,330.2 210.3,325.8 210.7,322.2C211.2,318.7 211.7,311.8 212.2,310.7C212.7,309.6 213.3,314.2 213.7,315.5C214.2,316.8 214.5,318.8 214.9,318.5C215.4,318.2 215.9,313.7 216.4,313.7C216.9,313.7 217.4,317.3 217.9,318.5C218.5,319.6 219.2,319.0 219.7,320.7C220.3,322.5 220.7,326.5 221.2,329.0C221.7,331.4 222.2,335.0 222.7,335.2C223.2,335.5 223.7,332.2 224.2,330.4C224.7,328.7 225.3,325.2 225.7,324.5C226.2,323.7 226.5,325.2 226.9,326.0C227.4,326.7 227.9,329.1 228.4,329.0C228.9,328.8 229.4,326.3 229.9,325.2C230.4,324.1 230.9,323.6 231.4,322.2C231.9,320.8 232.3,318.5 232.9,317.0C233.4,315.4 234.1,313.4 234.7,312.8C235.2,312.2 235.7,312.8 236.2,313.2C236.7,313.7 237.2,314.5 237.7,315.5C238.2,316.5 238.7,318.5 239.2,319.2C239.7,320.0 240.2,318.8 240.7,320.0C241.2,321.1 241.7,324.0 242.2,326.0C242.7,328.0 243.2,332.2 243.7,331.9C244.1,331.7 244.5,327.0 244.9,324.5C245.3,322.0 245.6,316.2 246.1,317.0C246.5,317.7 247.1,325.6 247.6,329.0C248.0,332.3 248.4,338.4 248.8,337.2C249.2,335.9 249.6,325.8 250.0,321.5C250.4,317.1 250.8,311.5 251.2,311.0C251.6,310.5 252.0,318.2 252.4,318.5C252.8,318.7 253.2,314.5 253.6,312.5C254.0,310.4 254.4,306.1 254.8,306.2C255.2,306.3 255.6,310.4 256.0,313.2C256.4,316.0 256.8,320.6 257.2,323.0C257.5,325.3 257.7,328.2 258.1,327.5C258.4,326.7 258.9,319.5 259.3,318.5C259.6,317.5 259.8,319.3 260.2,321.5C260.5,323.6 261.0,329.3 261.4,331.2C261.7,333.1 261.9,334.3 262.3,332.7C262.6,331.1 263.1,324.8 263.5,321.5C263.8,318.1 263.9,311.3 264.3,312.5C264.6,313.8 265.1,324.0 265.6,329.0C266.0,334.1 266.5,342.5 266.9,342.9C267.3,343.4 267.8,333.9 268.2,331.7C268.7,329.5 269.1,329.7 269.5,329.7C269.9,329.7 270.2,332.7 270.6,331.7C271.0,330.7 271.4,326.5 271.9,323.8C272.4,321.0 272.9,317.5 273.5,315.2C274.1,312.8 274.9,309.9 275.5,309.5C276.0,309.0 276.4,310.4 276.8,312.5C277.2,314.7 277.8,320.4 278.1,322.4C278.5,324.4 278.5,325.4 278.8,324.4C279.1,323.4 279.4,317.4 279.8,316.5C280.2,315.6 280.7,317.7 281.2,319.1C281.6,320.6 282.0,324.9 282.5,325.3C283.0,325.8 283.5,322.8 284.1,321.8C284.6,320.7 285.2,320.7 285.7,319.1C286.1,317.6 286.6,314.1 287.0,312.5C287.4,311.0 287.7,309.8 288.0,309.9C288.4,310.0 288.7,311.1 289.1,313.2C289.5,315.3 290.0,320.0 290.4,322.4C290.9,324.9 291.3,327.9 291.7,327.7C292.2,327.5 292.7,322.4 293.1,321.1C293.4,319.8 293.6,319.0 294.0,319.8C294.4,320.6 294.9,323.7 295.3,325.7C295.7,327.8 296.2,331.9 296.6,331.9C297.1,331.9 297.5,327.0 298.0,325.7C298.4,324.5 298.8,324.3 299.3,324.4C299.7,324.5 300.2,327.6 300.6,326.4C301.0,325.2 301.5,319.0 301.9,317.1C302.3,315.3 302.5,314.3 302.8,315.2C303.2,316.0 303.5,320.0 303.9,322.4C304.3,324.9 304.6,329.7 305.0,329.7C305.3,329.7 305.7,324.5 306.0,322.4C306.3,320.3 306.6,317.8 306.9,317.1C307.3,316.5 307.8,318.5 308.3,318.5C308.7,318.5 309.0,316.9 309.4,317.1C309.9,317.4 310.3,319.0 310.8,319.8C311.2,320.6 311.7,322.4 312.1,321.8C312.5,321.1 312.8,316.4 313.1,315.8C313.5,315.3 313.8,316.5 314.2,318.5C314.6,320.4 315.2,325.4 315.5,327.7C315.9,330.0 316.1,332.6 316.5,332.3C316.8,332.1 317.3,328.2 317.8,326.4C318.2,324.6 318.7,321.7 319.1,321.8C319.5,321.9 320.0,325.3 320.4,327.1C320.9,328.8 321.3,332.7 321.7,332.3C322.2,332.0 322.6,328.0 323.1,325.1C323.5,322.1 323.9,317.0 324.4,314.5C324.8,312.0 325.3,309.7 325.7,309.9C326.1,310.1 326.6,314.5 327.0,315.8C327.5,317.1 327.9,315.9 328.3,317.8C328.8,319.7 329.3,324.4 329.7,327.1C330.0,329.7 330.3,334.2 330.6,333.7C330.9,333.1 331.3,326.9 331.7,323.8C332.0,320.6 332.6,316.3 333.0,314.5C333.3,312.7 333.6,312.5 333.9,312.9C334.2,313.4 334.6,315.7 335.0,317.1C335.3,318.6 335.6,321.1 335.9,321.8C336.2,322.4 336.5,320.9 336.9,321.1C337.3,321.3 337.8,323.2 338.3,323.1C338.7,323.0 338.9,320.8 339.6,320.4C340.2,320.1 341.8,321.0 342.2,321.1" fill="none" stroke="#c02824" stroke-width="1.4" stroke-linejoin="round"/></g>
<g clip-path="url(#cr2)"><path d="M343.7,334.9C344.0,334.8 344.7,334.7 345.2,334.2C345.8,333.7 346.6,332.4 347.2,331.9C347.8,331.4 348.5,332.8 349.0,331.2C349.5,329.6 349.7,324.2 350.2,322.2C350.6,320.2 351.2,318.5 351.7,319.2C352.2,320.0 352.7,326.5 353.2,326.7C353.7,327.0 354.2,321.8 354.7,320.7C355.2,319.6 355.7,319.2 356.2,320.0C356.7,320.7 357.1,326.0 357.7,325.2C358.2,324.5 358.9,316.1 359.5,315.5C360.0,314.8 360.5,319.7 361.0,321.5C361.5,323.2 362.0,326.0 362.5,326.0C363.0,326.0 363.5,322.5 364.0,321.5C364.5,320.5 365.0,318.8 365.5,320.0C366.0,321.1 366.5,329.0 367.0,328.2C367.5,327.5 368.0,318.6 368.5,315.5C368.9,312.4 369.2,309.2 369.7,309.5C370.1,309.7 370.6,316.7 371.0,317.0C371.4,317.2 371.8,312.7 372.2,311.0C372.6,309.2 373.0,305.7 373.4,306.5C373.8,307.2 374.1,311.9 374.5,315.5C374.8,319.1 375.2,326.0 375.7,328.2C376.1,330.4 376.6,329.0 377.1,329.0C377.7,329.0 378.4,329.1 378.9,328.2C379.5,327.3 380.0,324.6 380.4,323.7C380.9,322.8 381.3,322.6 381.6,323.0C382.0,323.3 382.3,325.8 382.7,326.0C383.1,326.1 383.8,324.2 384.2,323.7C384.6,323.2 384.9,322.5 385.2,323.0C385.6,323.5 386.0,325.3 386.4,326.7C386.9,328.1 387.4,331.3 387.9,331.2C388.4,331.1 388.9,328.0 389.4,326.0C389.9,324.0 390.4,321.2 390.9,319.2C391.4,317.2 392.0,315.1 392.4,314.0C392.9,312.8 393.2,311.6 393.6,312.2C394.0,312.8 394.5,315.5 395.0,317.7C395.4,319.9 395.7,324.7 396.2,325.2C396.6,325.7 397.2,321.6 397.7,320.7C398.1,319.8 398.3,319.5 398.7,320.0C399.1,320.5 399.7,322.8 400.2,323.7C400.7,324.6 401.2,325.8 401.7,325.2C402.2,324.6 402.7,321.6 403.2,320.0C403.7,318.3 404.2,315.8 404.7,315.5C405.2,315.1 405.7,316.5 406.2,317.7C406.7,319.0 407.3,321.7 407.7,323.0C408.2,324.2 408.5,325.6 408.9,325.2C409.3,324.8 409.7,321.6 410.1,320.7C410.5,319.8 410.7,318.8 411.1,319.7C411.6,320.5 412.1,325.0 412.6,326.0C413.1,326.9 413.6,326.5 414.1,325.2C414.6,324.0 415.2,320.3 415.6,318.5C416.1,316.6 416.5,313.7 416.8,314.0C417.2,314.2 417.5,317.6 417.9,320.0C418.3,322.3 418.7,326.3 419.1,328.2C419.5,330.1 419.8,332.3 420.1,331.2C420.5,330.1 420.8,324.8 421.2,321.5C421.6,318.1 421.9,311.7 422.4,311.0C422.8,310.2 423.4,314.7 423.9,317.0C424.4,319.2 424.9,324.7 425.4,324.5C425.9,324.2 426.4,318.3 426.9,315.5C427.4,312.7 427.9,308.2 428.4,307.7C428.8,307.2 429.1,310.6 429.6,312.5C430.0,314.4 430.6,318.2 431.1,319.2C431.6,320.2 432.1,317.8 432.6,318.5C433.1,319.1 433.6,322.6 434.1,323.0C434.6,323.3 435.1,321.5 435.6,320.7C436.1,320.0 436.6,318.0 437.1,318.5C437.6,319.0 438.1,322.1 438.6,323.7C439.1,325.3 439.6,326.5 440.1,328.2C440.6,330.0 441.1,334.2 441.6,334.2C442.1,334.2 442.6,329.7 443.1,328.2C443.6,326.7 444.3,325.7 444.6,325.2C444.8,324.7 444.3,324.1 444.5,325.2C444.7,326.3 445.5,331.1 446.0,331.9C446.5,332.8 446.9,330.4 447.5,330.4C448.0,330.4 448.7,333.4 449.3,331.9C449.8,330.4 450.3,325.2 450.8,321.5C451.2,317.7 451.5,312.0 452.0,309.5C452.4,307.0 453.0,306.5 453.5,306.5C454.0,306.5 454.5,307.2 455.0,309.5C455.5,311.7 456.1,317.6 456.5,320.0C456.9,322.3 457.2,324.0 457.5,323.7C457.9,323.5 458.4,318.1 458.7,318.5C459.1,318.8 459.4,323.4 459.8,326.0C460.2,328.5 460.8,333.4 461.3,333.7C461.8,334.1 462.2,329.9 462.8,328.2C463.3,326.5 464.1,325.0 464.7,323.7C465.4,322.5 466.1,322.2 466.7,320.7C467.2,319.2 467.7,316.3 468.2,314.7C468.6,313.1 468.9,310.6 469.4,311.0C469.8,311.4 470.2,315.8 470.7,317.0C471.2,318.1 471.8,317.5 472.2,317.7C472.7,318.0 473.0,317.1 473.4,318.5C473.8,319.8 474.3,324.3 474.8,326.0C475.2,327.6 475.6,328.6 476.0,328.2C476.4,327.8 476.7,323.7 477.1,323.7C477.6,323.7 478.1,328.1 478.6,328.2C479.1,328.3 479.7,325.7 480.1,324.5C480.6,323.2 480.9,321.0 481.3,320.7C481.7,320.5 482.1,322.7 482.5,323.0C482.9,323.2 483.3,321.3 483.7,322.2C484.1,323.1 484.5,326.3 484.9,328.2C485.4,330.1 486.0,334.3 486.4,333.4C486.9,332.6 487.2,327.2 487.6,323.0C488.1,318.7 488.6,308.2 489.0,308.0C489.4,307.7 489.7,316.2 490.2,321.5C490.6,326.8 491.2,339.0 491.7,339.7C492.2,340.5 492.7,329.6 493.2,326.0C493.7,322.3 494.2,320.0 494.7,317.7C495.2,315.5 495.7,315.1 496.2,312.5C496.7,309.9 497.2,302.6 497.7,302.0C498.1,301.4 498.4,306.0 498.9,308.7C499.3,311.5 499.8,316.1 500.2,318.5C500.6,320.8 501.0,323.0 501.4,323.0C501.8,323.0 502.2,319.8 502.6,318.5C503.0,317.2 503.4,315.3 503.8,315.2C504.2,315.0 504.7,316.9 505.2,317.7C505.6,318.5 506.2,319.8 506.7,320.0C507.1,320.1 507.3,317.5 507.7,318.5C508.1,319.5 508.7,325.3 509.2,326.0C509.7,326.6 510.3,323.0 510.7,322.2C511.1,321.5 511.4,320.7 511.9,321.5C512.3,322.2 512.8,324.9 513.4,326.7C513.9,328.5 514.7,332.4 515.2,332.2C515.7,332.1 515.9,328.4 516.4,326.0C516.8,323.5 517.4,318.2 517.9,317.7C518.3,317.2 518.7,321.2 519.1,323.0C519.5,324.7 519.7,327.6 520.1,328.2C520.6,328.8 521.1,327.1 521.6,326.7C522.2,326.3 523.0,326.8 523.6,326.0C524.2,325.1 524.6,323.3 525.1,321.5C525.5,319.6 525.9,315.7 526.3,314.7C526.6,313.7 526.8,314.0 527.2,315.5C527.5,317.0 528.0,321.5 528.4,323.7C528.7,326.0 528.9,329.3 529.3,329.0C529.6,328.6 530.1,324.2 530.6,321.5C531.1,318.7 531.6,314.3 532.1,312.5C532.6,310.7 533.1,310.4 533.6,310.7C534.1,310.9 534.6,312.4 535.1,314.0C535.6,315.5 536.2,318.3 536.6,320.0C537.0,321.6 537.3,324.0 537.7,323.7C538.0,323.5 538.5,319.6 538.9,318.5C539.2,317.3 539.4,316.2 539.8,317.0C540.1,317.7 540.6,321.1 541.1,323.0C541.6,324.8 542.0,326.7 542.6,328.2C543.2,329.7 544.3,331.5 544.9,331.7C545.5,331.8 545.8,329.7 546.2,329.0C546.7,328.4 547.0,328.0 547.6,327.7C548.1,327.4 548.8,327.9 549.3,327.1C549.8,326.2 550.1,323.7 550.6,322.4C551.1,321.2 551.7,319.2 552.2,319.5C552.7,319.9 553.1,322.9 553.5,324.4C553.9,326.0 554.4,328.6 554.8,328.8C555.3,329.0 555.7,326.5 556.1,325.7C556.6,325.0 557.1,324.1 557.5,324.4C557.9,324.7 558.1,328.7 558.5,327.7C558.9,326.7 559.3,321.6 559.7,318.5C560.1,315.3 560.4,309.2 560.8,309.0C561.1,308.7 561.5,314.1 561.8,317.1C562.2,320.2 562.4,327.3 562.8,327.1C563.1,326.8 563.4,319.2 563.8,315.8C564.2,312.5 564.7,307.3 565.1,306.8C565.5,306.4 565.8,310.8 566.2,313.2C566.6,315.6 567.0,320.3 567.4,321.1C567.8,321.9 568.3,318.7 568.7,317.8C569.1,316.9 569.6,315.2 570.0,315.6C570.5,315.9 570.9,319.1 571.3,319.8C571.8,320.4 572.2,318.4 572.7,319.5C573.1,320.6 573.5,324.1 574.0,326.4C574.5,328.7 575.2,332.8 575.7,333.3C576.2,333.7 576.6,330.0 577.0,329.0C577.5,328.1 577.9,327.8 578.3,327.7C578.8,327.6 579.2,329.5 579.7,328.4C580.1,327.3 580.6,323.2 581.0,321.1C581.4,319.0 581.8,315.8 582.2,315.6C582.6,315.3 582.8,318.4 583.2,319.8C583.6,321.2 584.1,323.2 584.6,323.8C585.0,324.3 585.4,322.1 585.9,323.1C586.3,324.1 586.8,328.1 587.2,329.7C587.6,331.3 587.9,334.0 588.3,332.7C588.6,331.5 589.0,325.8 589.4,322.4C589.9,319.1 590.4,313.6 590.8,312.5C591.2,311.4 591.5,314.3 591.8,315.8C592.2,317.4 592.5,321.3 592.9,321.8C593.3,322.2 593.8,319.1 594.2,318.5C594.6,317.8 595.1,317.3 595.5,317.8C595.9,318.3 596.2,321.5 596.6,321.4C597.0,321.3 597.4,318.1 597.8,317.1C598.2,316.2 598.7,315.8 599.1,315.8C599.5,315.8 600.0,317.1 600.4,317.1C600.9,317.1 601.3,315.6 601.7,315.8C602.2,316.0 602.6,317.6 603.1,318.5C603.5,319.3 603.9,320.4 604.4,321.1C604.8,321.8 605.3,322.5 605.7,322.4C606.1,322.3 606.6,320.6 607.0,320.4C607.5,320.3 607.9,321.2 608.3,321.8C608.8,322.3 609.2,323.6 609.7,323.8C610.1,323.9 610.6,322.3 611.0,322.4C611.4,322.5 611.9,323.5 612.3,324.4C612.8,325.3 613.2,327.3 613.6,327.7C614.1,328.2 614.5,327.3 615.0,327.1C615.4,326.8 615.5,326.5 616.3,326.4C617.0,326.3 619.0,326.6 619.6,326.7" fill="none" stroke="#5a7ac0" stroke-width="3" stroke-linejoin="round" opacity="0.3"/><path d="M343.7,334.9C344.0,334.8 344.7,334.7 345.2,334.2C345.8,333.7 346.6,332.4 347.2,331.9C347.8,331.4 348.5,332.8 349.0,331.2C349.5,329.6 349.7,324.2 350.2,322.2C350.6,320.2 351.2,318.5 351.7,319.2C352.2,320.0 352.7,326.5 353.2,326.7C353.7,327.0 354.2,321.8 354.7,320.7C355.2,319.6 355.7,319.2 356.2,320.0C356.7,320.7 357.1,326.0 357.7,325.2C358.2,324.5 358.9,316.1 359.5,315.5C360.0,314.8 360.5,319.7 361.0,321.5C361.5,323.2 362.0,326.0 362.5,326.0C363.0,326.0 363.5,322.5 364.0,321.5C364.5,320.5 365.0,318.8 365.5,320.0C366.0,321.1 366.5,329.0 367.0,328.2C367.5,327.5 368.0,318.6 368.5,315.5C368.9,312.4 369.2,309.2 369.7,309.5C370.1,309.7 370.6,316.7 371.0,317.0C371.4,317.2 371.8,312.7 372.2,311.0C372.6,309.2 373.0,305.7 373.4,306.5C373.8,307.2 374.1,311.9 374.5,315.5C374.8,319.1 375.2,326.0 375.7,328.2C376.1,330.4 376.6,329.0 377.1,329.0C377.7,329.0 378.4,329.1 378.9,328.2C379.5,327.3 380.0,324.6 380.4,323.7C380.9,322.8 381.3,322.6 381.6,323.0C382.0,323.3 382.3,325.8 382.7,326.0C383.1,326.1 383.8,324.2 384.2,323.7C384.6,323.2 384.9,322.5 385.2,323.0C385.6,323.5 386.0,325.3 386.4,326.7C386.9,328.1 387.4,331.3 387.9,331.2C388.4,331.1 388.9,328.0 389.4,326.0C389.9,324.0 390.4,321.2 390.9,319.2C391.4,317.2 392.0,315.1 392.4,314.0C392.9,312.8 393.2,311.6 393.6,312.2C394.0,312.8 394.5,315.5 395.0,317.7C395.4,319.9 395.7,324.7 396.2,325.2C396.6,325.7 397.2,321.6 397.7,320.7C398.1,319.8 398.3,319.5 398.7,320.0C399.1,320.5 399.7,322.8 400.2,323.7C400.7,324.6 401.2,325.8 401.7,325.2C402.2,324.6 402.7,321.6 403.2,320.0C403.7,318.3 404.2,315.8 404.7,315.5C405.2,315.1 405.7,316.5 406.2,317.7C406.7,319.0 407.3,321.7 407.7,323.0C408.2,324.2 408.5,325.6 408.9,325.2C409.3,324.8 409.7,321.6 410.1,320.7C410.5,319.8 410.7,318.8 411.1,319.7C411.6,320.5 412.1,325.0 412.6,326.0C413.1,326.9 413.6,326.5 414.1,325.2C414.6,324.0 415.2,320.3 415.6,318.5C416.1,316.6 416.5,313.7 416.8,314.0C417.2,314.2 417.5,317.6 417.9,320.0C418.3,322.3 418.7,326.3 419.1,328.2C419.5,330.1 419.8,332.3 420.1,331.2C420.5,330.1 420.8,324.8 421.2,321.5C421.6,318.1 421.9,311.7 422.4,311.0C422.8,310.2 423.4,314.7 423.9,317.0C424.4,319.2 424.9,324.7 425.4,324.5C425.9,324.2 426.4,318.3 426.9,315.5C427.4,312.7 427.9,308.2 428.4,307.7C428.8,307.2 429.1,310.6 429.6,312.5C430.0,314.4 430.6,318.2 431.1,319.2C431.6,320.2 432.1,317.8 432.6,318.5C433.1,319.1 433.6,322.6 434.1,323.0C434.6,323.3 435.1,321.5 435.6,320.7C436.1,320.0 436.6,318.0 437.1,318.5C437.6,319.0 438.1,322.1 438.6,323.7C439.1,325.3 439.6,326.5 440.1,328.2C440.6,330.0 441.1,334.2 441.6,334.2C442.1,334.2 442.6,329.7 443.1,328.2C443.6,326.7 444.3,325.7 444.6,325.2C444.8,324.7 444.3,324.1 444.5,325.2C444.7,326.3 445.5,331.1 446.0,331.9C446.5,332.8 446.9,330.4 447.5,330.4C448.0,330.4 448.7,333.4 449.3,331.9C449.8,330.4 450.3,325.2 450.8,321.5C451.2,317.7 451.5,312.0 452.0,309.5C452.4,307.0 453.0,306.5 453.5,306.5C454.0,306.5 454.5,307.2 455.0,309.5C455.5,311.7 456.1,317.6 456.5,320.0C456.9,322.3 457.2,324.0 457.5,323.7C457.9,323.5 458.4,318.1 458.7,318.5C459.1,318.8 459.4,323.4 459.8,326.0C460.2,328.5 460.8,333.4 461.3,333.7C461.8,334.1 462.2,329.9 462.8,328.2C463.3,326.5 464.1,325.0 464.7,323.7C465.4,322.5 466.1,322.2 466.7,320.7C467.2,319.2 467.7,316.3 468.2,314.7C468.6,313.1 468.9,310.6 469.4,311.0C469.8,311.4 470.2,315.8 470.7,317.0C471.2,318.1 471.8,317.5 472.2,317.7C472.7,318.0 473.0,317.1 473.4,318.5C473.8,319.8 474.3,324.3 474.8,326.0C475.2,327.6 475.6,328.6 476.0,328.2C476.4,327.8 476.7,323.7 477.1,323.7C477.6,323.7 478.1,328.1 478.6,328.2C479.1,328.3 479.7,325.7 480.1,324.5C480.6,323.2 480.9,321.0 481.3,320.7C481.7,320.5 482.1,322.7 482.5,323.0C482.9,323.2 483.3,321.3 483.7,322.2C484.1,323.1 484.5,326.3 484.9,328.2C485.4,330.1 486.0,334.3 486.4,333.4C486.9,332.6 487.2,327.2 487.6,323.0C488.1,318.7 488.6,308.2 489.0,308.0C489.4,307.7 489.7,316.2 490.2,321.5C490.6,326.8 491.2,339.0 491.7,339.7C492.2,340.5 492.7,329.6 493.2,326.0C493.7,322.3 494.2,320.0 494.7,317.7C495.2,315.5 495.7,315.1 496.2,312.5C496.7,309.9 497.2,302.6 497.7,302.0C498.1,301.4 498.4,306.0 498.9,308.7C499.3,311.5 499.8,316.1 500.2,318.5C500.6,320.8 501.0,323.0 501.4,323.0C501.8,323.0 502.2,319.8 502.6,318.5C503.0,317.2 503.4,315.3 503.8,315.2C504.2,315.0 504.7,316.9 505.2,317.7C505.6,318.5 506.2,319.8 506.7,320.0C507.1,320.1 507.3,317.5 507.7,318.5C508.1,319.5 508.7,325.3 509.2,326.0C509.7,326.6 510.3,323.0 510.7,322.2C511.1,321.5 511.4,320.7 511.9,321.5C512.3,322.2 512.8,324.9 513.4,326.7C513.9,328.5 514.7,332.4 515.2,332.2C515.7,332.1 515.9,328.4 516.4,326.0C516.8,323.5 517.4,318.2 517.9,317.7C518.3,317.2 518.7,321.2 519.1,323.0C519.5,324.7 519.7,327.6 520.1,328.2C520.6,328.8 521.1,327.1 521.6,326.7C522.2,326.3 523.0,326.8 523.6,326.0C524.2,325.1 524.6,323.3 525.1,321.5C525.5,319.6 525.9,315.7 526.3,314.7C526.6,313.7 526.8,314.0 527.2,315.5C527.5,317.0 528.0,321.5 528.4,323.7C528.7,326.0 528.9,329.3 529.3,329.0C529.6,328.6 530.1,324.2 530.6,321.5C531.1,318.7 531.6,314.3 532.1,312.5C532.6,310.7 533.1,310.4 533.6,310.7C534.1,310.9 534.6,312.4 535.1,314.0C535.6,315.5 536.2,318.3 536.6,320.0C537.0,321.6 537.3,324.0 537.7,323.7C538.0,323.5 538.5,319.6 538.9,318.5C539.2,317.3 539.4,316.2 539.8,317.0C540.1,317.7 540.6,321.1 541.1,323.0C541.6,324.8 542.0,326.7 542.6,328.2C543.2,329.7 544.3,331.5 544.9,331.7C545.5,331.8 545.8,329.7 546.2,329.0C546.7,328.4 547.0,328.0 547.6,327.7C548.1,327.4 548.8,327.9 549.3,327.1C549.8,326.2 550.1,323.7 550.6,322.4C551.1,321.2 551.7,319.2 552.2,319.5C552.7,319.9 553.1,322.9 553.5,324.4C553.9,326.0 554.4,328.6 554.8,328.8C555.3,329.0 555.7,326.5 556.1,325.7C556.6,325.0 557.1,324.1 557.5,324.4C557.9,324.7 558.1,328.7 558.5,327.7C558.9,326.7 559.3,321.6 559.7,318.5C560.1,315.3 560.4,309.2 560.8,309.0C561.1,308.7 561.5,314.1 561.8,317.1C562.2,320.2 562.4,327.3 562.8,327.1C563.1,326.8 563.4,319.2 563.8,315.8C564.2,312.5 564.7,307.3 565.1,306.8C565.5,306.4 565.8,310.8 566.2,313.2C566.6,315.6 567.0,320.3 567.4,321.1C567.8,321.9 568.3,318.7 568.7,317.8C569.1,316.9 569.6,315.2 570.0,315.6C570.5,315.9 570.9,319.1 571.3,319.8C571.8,320.4 572.2,318.4 572.7,319.5C573.1,320.6 573.5,324.1 574.0,326.4C574.5,328.7 575.2,332.8 575.7,333.3C576.2,333.7 576.6,330.0 577.0,329.0C577.5,328.1 577.9,327.8 578.3,327.7C578.8,327.6 579.2,329.5 579.7,328.4C580.1,327.3 580.6,323.2 581.0,321.1C581.4,319.0 581.8,315.8 582.2,315.6C582.6,315.3 582.8,318.4 583.2,319.8C583.6,321.2 584.1,323.2 584.6,323.8C585.0,324.3 585.4,322.1 585.9,323.1C586.3,324.1 586.8,328.1 587.2,329.7C587.6,331.3 587.9,334.0 588.3,332.7C588.6,331.5 589.0,325.8 589.4,322.4C589.9,319.1 590.4,313.6 590.8,312.5C591.2,311.4 591.5,314.3 591.8,315.8C592.2,317.4 592.5,321.3 592.9,321.8C593.3,322.2 593.8,319.1 594.2,318.5C594.6,317.8 595.1,317.3 595.5,317.8C595.9,318.3 596.2,321.5 596.6,321.4C597.0,321.3 597.4,318.1 597.8,317.1C598.2,316.2 598.7,315.8 599.1,315.8C599.5,315.8 600.0,317.1 600.4,317.1C600.9,317.1 601.3,315.6 601.7,315.8C602.2,316.0 602.6,317.6 603.1,318.5C603.5,319.3 603.9,320.4 604.4,321.1C604.8,321.8 605.3,322.5 605.7,322.4C606.1,322.3 606.6,320.6 607.0,320.4C607.5,320.3 607.9,321.2 608.3,321.8C608.8,322.3 609.2,323.6 609.7,323.8C610.1,323.9 610.6,322.3 611.0,322.4C611.4,322.5 611.9,323.5 612.3,324.4C612.8,325.3 613.2,327.3 613.6,327.7C614.1,328.2 614.5,327.3 615.0,327.1C615.4,326.8 615.5,326.5 616.3,326.4C617.0,326.3 619.0,326.6 619.6,326.7" fill="none" stroke="#2f4c86" stroke-width="1.4" stroke-linejoin="round"/></g>
<path d="M131.2,298.8 v5.5 M131.2,361.8 v-5.5" stroke="#111" stroke-width="1.6" fill="none"/><path d="M196.5,298.8 v5.5 M196.5,361.8 v-5.5" stroke="#111" stroke-width="1.6" fill="none"/><path d="M261.8,298.8 v5.5 M261.8,361.8 v-5.5" stroke="#111" stroke-width="1.6" fill="none"/><path d="M327.1,298.8 v5.5 M327.1,361.8 v-5.5" stroke="#111" stroke-width="1.6" fill="none"/><path d="M66,301.9 h5.5 M340,301.9 h-5.5" stroke="#111" stroke-width="1.6" fill="none"/><path d="M66,322.1 h5.5 M340,322.1 h-5.5" stroke="#111" stroke-width="1.6" fill="none"/><path d="M66,342.3 h5.5 M340,342.3 h-5.5" stroke="#111" stroke-width="1.6" fill="none"/>
<path d="M410.1,298.8 v5.5 M410.1,361.8 v-5.5" stroke="#111" stroke-width="1.6" fill="none"/><path d="M475.1,298.8 v5.5 M475.1,361.8 v-5.5" stroke="#111" stroke-width="1.6" fill="none"/><path d="M540.0,298.8 v5.5 M540.0,361.8 v-5.5" stroke="#111" stroke-width="1.6" fill="none"/><path d="M605.0,298.8 v5.5 M605.0,361.8 v-5.5" stroke="#111" stroke-width="1.6" fill="none"/><path d="M345.1,301.9 h5.5 M618.1,301.9 h-5.5" stroke="#111" stroke-width="1.6" fill="none"/><path d="M345.1,322.1 h5.5 M618.1,322.1 h-5.5" stroke="#111" stroke-width="1.6" fill="none"/><path d="M345.1,342.3 h5.5 M618.1,342.3 h-5.5" stroke="#111" stroke-width="1.6" fill="none"/>
<rect x="70.3" y="344.2" width="60.5" height="13.0" fill="#f2fcf9" stroke="#4a4a4a" stroke-width="1"/><line x1="74.1" y1="350.0" x2="88.3" y2="350.0" stroke="#b2423a" stroke-width="1.6"/><text style="stroke-width:0.12px" x="91.8" y="353.3" font-size="9.5" textLength="36.3" lengthAdjust="spacingAndGlyphs" fill="#1c1c1c">Residual</text>
<rect x="348.7" y="344.2" width="60.6" height="13.0" fill="#f2fcf9" stroke="#4a4a4a" stroke-width="1"/><line x1="352.5" y1="350.0" x2="366.7" y2="350.0" stroke="#34548f" stroke-width="1.6"/><text style="stroke-width:0.12px" x="370.2" y="353.3" font-size="9.5" textLength="36.4" lengthAdjust="spacingAndGlyphs" fill="#1c1c1c">Residual</text>
<rect x="66" y="298.8" width="274" height="63" fill="none" stroke="#111" stroke-width="2"/>
<rect x="345.1" y="298.8" width="273" height="63" fill="none" stroke="#111" stroke-width="2"/>
<defs><clipPath id="sp0"><rect x="65" y="371" width="276" height="131.5"/></clipPath><clipPath id="sp1"><rect x="344" y="371" width="274.6" height="131.5"/></clipPath><filter id="b1_5" x="-50%" y="-50%" width="200%" height="200%"><feGaussianBlur stdDeviation="1.5"/></filter><filter id="b2_5" x="-50%" y="-50%" width="200%" height="200%"><feGaussianBlur stdDeviation="2.5"/></filter><filter id="b4" x="-50%" y="-50%" width="200%" height="200%"><feGaussianBlur stdDeviation="4"/></filter><filter id="b6" x="-50%" y="-50%" width="200%" height="200%"><feGaussianBlur stdDeviation="6"/></filter><filter id="b9" x="-50%" y="-50%" width="200%" height="200%"><feGaussianBlur stdDeviation="9"/></filter><linearGradient id="cb" x1="0" y1="1" x2="0" y2="0"><stop offset="0" stop-color="#4a1d6a"/><stop offset="0.1" stop-color="#48287a"/><stop offset="0.2" stop-color="#414487"/><stop offset="0.3" stop-color="#355f8d"/><stop offset="0.4" stop-color="#2a788e"/><stop offset="0.5" stop-color="#21918c"/><stop offset="0.6" stop-color="#22a884"/><stop offset="0.7" stop-color="#44bf70"/><stop offset="0.8" stop-color="#7ad151"/><stop offset="0.9" stop-color="#bddf26"/><stop offset="1" stop-color="#f0e22a"/></linearGradient></defs><g clip-path="url(#sp0)"><rect x="55" y="360" width="300" height="155" fill="#442a79"/><g filter="url(#b6)"><ellipse cx="157" cy="453" rx="22" ry="11" fill="#411c69" opacity="0.95"/><ellipse cx="222" cy="450" rx="26" ry="13" fill="#411c69" opacity="0.95"/><ellipse cx="276" cy="420" rx="10" ry="16" fill="#411c69" opacity="0.8"/><ellipse cx="200" cy="499" rx="150" ry="5" fill="#411c69" opacity="1"/><ellipse cx="160" cy="420" rx="28" ry="10" fill="#411c69" opacity="0.5"/><ellipse cx="322" cy="430" rx="12" ry="30" fill="#411c69" opacity="0.5"/><ellipse cx="102" cy="454" rx="30" ry="11" fill="#345f8d" opacity="1" transform="rotate(5 102 454)"/><ellipse cx="121" cy="446" rx="11" ry="7" fill="#2f6c8d" opacity="1" transform="rotate(20 121 446)"/><ellipse cx="95" cy="478" rx="34" ry="9" fill="#3c4e89" opacity="1"/><ellipse cx="89" cy="404" rx="5" ry="15" fill="#2c718d" opacity="1" transform="rotate(10 89 404)"/><ellipse cx="116" cy="392" rx="4" ry="11" fill="#38578b" opacity="0.9"/><ellipse cx="249" cy="402" rx="5" ry="15" fill="#2d6f8d" opacity="1"/><ellipse cx="249" cy="437" rx="6" ry="20" fill="#365c8c" opacity="0.95" transform="rotate(-8 249 437)"/><ellipse cx="210" cy="420" rx="18" ry="18" fill="#433981" opacity="0.6"/><ellipse cx="203" cy="455" rx="4.5" ry="13" fill="#33628d" opacity="0.9"/><ellipse cx="325" cy="420" rx="3.5" ry="18" fill="#3d4b88" opacity="0.8"/><path d="M128,466 C150,482 190,482 262,478 S310,484 322,484" fill="none" stroke="#29798d" stroke-width="18" stroke-linecap="round" stroke-linejoin="round" opacity="1"/><path d="M243,474 C262,458 286,430 301,388 C305,420 309,452 320,482 Z" fill="#31678d" opacity="0.95"/></g><g filter="url(#b4)"><path d="M185,480 C220,481 245,478 262,471" fill="none" stroke="#228b8c" stroke-width="9" stroke-linecap="round" stroke-linejoin="round" opacity="0.95"/><path d="M254,474 C270,455 289,430 300,396 C303,425 302,446 297,460 C285,469 268,474 254,474Z" fill="#21958a" opacity="0.95"/></g><g filter="url(#b2_5)"><path d="M258,467 C272,454 290,428 299,400 C302,425 300,444 295,455 C285,464 270,468 258,467Z" fill="#3fbc72" opacity="1"/><path d="M296,418 C298,408 300,400 301.5,391" fill="none" stroke="#219a88" stroke-width="6" stroke-linecap="round" stroke-linejoin="round" opacity="1"/><path d="M276,454 C286,445 293,431 297.5,411" fill="none" stroke="#90d542" stroke-width="9.5" stroke-linecap="round" stroke-linejoin="round" opacity="1"/></g><g filter="url(#b1_5)"><path d="M283,445 C287.5,439.5 291.5,432 294,423" fill="none" stroke="#e9e425" stroke-width="6.5" stroke-linecap="round" stroke-linejoin="round" opacity="1"/><ellipse cx="288" cy="436.5" rx="4.2" ry="9.5" fill="#efe525" opacity="1" transform="rotate(28 288 436.5)"/></g><g filter="url(#b2_5)" opacity="0.8"><ellipse cx="75" cy="386" rx="2" ry="9" fill="#37598b" opacity="1"/><ellipse cx="100" cy="384" rx="2" ry="7" fill="#37598b" opacity="1"/><ellipse cx="131" cy="385" rx="2" ry="8" fill="#37598b" opacity="1"/><ellipse cx="143" cy="388" rx="2" ry="12" fill="#37598b" opacity="1"/><ellipse cx="152" cy="386" rx="2" ry="10" fill="#37598b" opacity="1"/><ellipse cx="160" cy="390" rx="2" ry="14" fill="#37598b" opacity="1"/><ellipse cx="172" cy="386" rx="2" ry="10" fill="#37598b" opacity="1"/><ellipse cx="186" cy="388" rx="2" ry="12" fill="#37598b" opacity="1"/><ellipse cx="196" cy="384" rx="2" ry="8" fill="#37598b" opacity="1"/><ellipse cx="206" cy="388" rx="2" ry="12" fill="#37598b" opacity="1"/><ellipse cx="220" cy="390" rx="2" ry="14" fill="#37598b" opacity="1"/><ellipse cx="233" cy="385" rx="2" ry="9" fill="#37598b" opacity="1"/><ellipse cx="262" cy="388" rx="2" ry="11" fill="#37598b" opacity="1"/><ellipse cx="275" cy="385" rx="2" ry="9" fill="#37598b" opacity="1"/><ellipse cx="290" cy="383" rx="2" ry="6" fill="#37598b" opacity="1"/><ellipse cx="312" cy="392" rx="2" ry="16" fill="#37598b" opacity="1"/><ellipse cx="322" cy="386" rx="2" ry="10" fill="#37598b" opacity="1"/><ellipse cx="333" cy="386" rx="2" ry="9" fill="#37598b" opacity="1"/></g></g><g clip-path="url(#sp1)"><rect x="335" y="360" width="300" height="155" fill="#442a79"/><g filter="url(#b6)"><ellipse cx="480" cy="499" rx="150" ry="5" fill="#411c69" opacity="1"/><ellipse cx="420" cy="428" rx="32" ry="10" fill="#411c69" opacity="0.6"/><ellipse cx="372" cy="415" rx="20" ry="8" fill="#411c69" opacity="0.5"/><ellipse cx="528" cy="428" rx="12" ry="14" fill="#411c69" opacity="0.7"/><ellipse cx="595" cy="430" rx="18" ry="30" fill="#411c69" opacity="0.45"/><ellipse cx="500" cy="455" rx="12" ry="8" fill="#411c69" opacity="0.5"/><ellipse cx="385" cy="452" rx="34" ry="11" fill="#3e4988" opacity="0.85"/><ellipse cx="440" cy="450" rx="25" ry="9" fill="#414386" opacity="0.7"/><ellipse cx="365" cy="480" rx="25" ry="7" fill="#423c82" opacity="0.6"/><ellipse cx="476" cy="430" rx="5" ry="22" fill="#3d4b88" opacity="0.8" transform="rotate(-10 476 430)"/><ellipse cx="600" cy="455" rx="10" ry="20" fill="#414386" opacity="0.7" transform="rotate(15 600 455)"/><ellipse cx="455" cy="478" rx="28" ry="8" fill="#3b518a" opacity="0.85"/><ellipse cx="490" cy="415" rx="4.5" ry="16" fill="#345f8d" opacity="1"/><ellipse cx="563" cy="384" rx="3" ry="8" fill="#33628d" opacity="0.9"/><path d="M470,485 C500,487 540,487 600,485" fill="none" stroke="#30698d" stroke-width="15" stroke-linecap="round" stroke-linejoin="round" opacity="1"/><path d="M500,478 C530,462 555,440 568,388 C572,420 578,455 592,484 Z" fill="#345f8d" opacity="0.95"/></g><g filter="url(#b4)"><path d="M490,485 C510,486 530,485 548,482" fill="none" stroke="#2c718d" stroke-width="8" stroke-linecap="round" stroke-linejoin="round" opacity="0.9"/><path d="M505,472 C532,458 556,436 567,394 C570,425 569,447 562,461 C548,469 525,473 505,472Z" fill="#23898c" opacity="1"/></g><g filter="url(#b2_5)"><path d="M530,460 C546,450 558,432 565,406" fill="none" stroke="#26ab81" stroke-width="12" stroke-linecap="round" stroke-linejoin="round" opacity="1"/><path d="M564,412 C565,402 566,396 566,388" fill="none" stroke="#26818d" stroke-width="5" stroke-linecap="round" stroke-linejoin="round" opacity="1"/><path d="M545,448 C553,440 559,428 563,414" fill="none" stroke="#4ec26a" stroke-width="7" stroke-linecap="round" stroke-linejoin="round" opacity="1"/></g><g filter="url(#b2_5)" opacity="0.8"><ellipse cx="352" cy="386" rx="2" ry="12" fill="#39548a" opacity="1"/><ellipse cx="362" cy="388" rx="2" ry="14" fill="#39548a" opacity="1"/><ellipse cx="375" cy="385" rx="2" ry="11" fill="#39548a" opacity="1"/><ellipse cx="392" cy="386" rx="2" ry="12" fill="#39548a" opacity="1"/><ellipse cx="408" cy="384" rx="2" ry="10" fill="#39548a" opacity="1"/><ellipse cx="420" cy="388" rx="2" ry="14" fill="#39548a" opacity="1"/><ellipse cx="436" cy="385" rx="2" ry="11" fill="#39548a" opacity="1"/><ellipse cx="450" cy="388" rx="2" ry="14" fill="#39548a" opacity="1"/><ellipse cx="462" cy="386" rx="2" ry="12" fill="#39548a" opacity="1"/><ellipse cx="476" cy="384" rx="2" ry="10" fill="#39548a" opacity="1"/><ellipse cx="490" cy="388" rx="2" ry="14" fill="#39548a" opacity="1"/><ellipse cx="503" cy="385" rx="2" ry="11" fill="#39548a" opacity="1"/><ellipse cx="518" cy="386" rx="2" ry="12" fill="#39548a" opacity="1"/><ellipse cx="532" cy="384" rx="2" ry="10" fill="#39548a" opacity="1"/><ellipse cx="546" cy="390" rx="2" ry="16" fill="#39548a" opacity="1"/><ellipse cx="580" cy="390" rx="2" ry="16" fill="#39548a" opacity="1"/><ellipse cx="590" cy="386" rx="2" ry="12" fill="#39548a" opacity="1"/><ellipse cx="600" cy="388" rx="2" ry="14" fill="#39548a" opacity="1"/><ellipse cx="610" cy="386" rx="2" ry="10" fill="#39548a" opacity="1"/></g></g><line x1="71" y1="378.5" x2="335" y2="378.5" stroke="#b5a3cf" stroke-width="1" opacity="0.72"/><path d="M66,378.5 h5 M340,378.5 h-5" stroke="#160a30" stroke-width="1.4"/><line x1="71" y1="408.0" x2="335" y2="408.0" stroke="#b5a3cf" stroke-width="1" opacity="0.72"/><path d="M66,408.0 h5 M340,408.0 h-5" stroke="#160a30" stroke-width="1.4"/><line x1="71" y1="437.5" x2="335" y2="437.5" stroke="#b5a3cf" stroke-width="1" opacity="0.72"/><path d="M66,437.5 h5 M340,437.5 h-5" stroke="#160a30" stroke-width="1.4"/><line x1="71" y1="467.0" x2="335" y2="467.0" stroke="#b5a3cf" stroke-width="1" opacity="0.72"/><path d="M66,467.0 h5 M340,467.0 h-5" stroke="#160a30" stroke-width="1.4"/><line x1="71" y1="496.5" x2="335" y2="496.5" stroke="#b5a3cf" stroke-width="1" opacity="0.72"/><path d="M66,496.5 h5 M340,496.5 h-5" stroke="#160a30" stroke-width="1.4"/><line x1="131.2" y1="376" x2="131.2" y2="497.5" stroke="#b5a3cf" stroke-width="1" opacity="0.72"/><path d="M131.2,372 v5 M131.2,501.5 v-5" stroke="#160a30" stroke-width="1.4"/><line x1="196.5" y1="376" x2="196.5" y2="497.5" stroke="#b5a3cf" stroke-width="1" opacity="0.72"/><path d="M196.5,372 v5 M196.5,501.5 v-5" stroke="#160a30" stroke-width="1.4"/><line x1="261.8" y1="376" x2="261.8" y2="497.5" stroke="#b5a3cf" stroke-width="1" opacity="0.72"/><path d="M261.8,372 v5 M261.8,501.5 v-5" stroke="#160a30" stroke-width="1.4"/><line x1="327.1" y1="376" x2="327.1" y2="497.5" stroke="#b5a3cf" stroke-width="1" opacity="0.72"/><path d="M327.1,372 v5 M327.1,501.5 v-5" stroke="#160a30" stroke-width="1.4"/><rect x="65.8" y="371.8" width="274.4" height="129.9" fill="none" stroke="#1d1140" stroke-width="1.6"/><line x1="350" y1="378.5" x2="612.6" y2="378.5" stroke="#b5a3cf" stroke-width="1" opacity="0.72"/><path d="M345,378.5 h5 M617.6,378.5 h-5" stroke="#160a30" stroke-width="1.4"/><line x1="350" y1="408.0" x2="612.6" y2="408.0" stroke="#b5a3cf" stroke-width="1" opacity="0.72"/><path d="M345,408.0 h5 M617.6,408.0 h-5" stroke="#160a30" stroke-width="1.4"/><line x1="350" y1="437.5" x2="612.6" y2="437.5" stroke="#b5a3cf" stroke-width="1" opacity="0.72"/><path d="M345,437.5 h5 M617.6,437.5 h-5" stroke="#160a30" stroke-width="1.4"/><line x1="350" y1="467.0" x2="612.6" y2="467.0" stroke="#b5a3cf" stroke-width="1" opacity="0.72"/><path d="M345,467.0 h5 M617.6,467.0 h-5" stroke="#160a30" stroke-width="1.4"/><line x1="350" y1="496.5" x2="612.6" y2="496.5" stroke="#b5a3cf" stroke-width="1" opacity="0.72"/><path d="M345,496.5 h5 M617.6,496.5 h-5" stroke="#160a30" stroke-width="1.4"/><line x1="410.1" y1="376" x2="410.1" y2="497.5" stroke="#b5a3cf" stroke-width="1" opacity="0.72"/><path d="M410.1,372 v5 M410.1,501.5 v-5" stroke="#160a30" stroke-width="1.4"/><line x1="475.1" y1="376" x2="475.1" y2="497.5" stroke="#b5a3cf" stroke-width="1" opacity="0.72"/><path d="M475.1,372 v5 M475.1,501.5 v-5" stroke="#160a30" stroke-width="1.4"/><line x1="540.0" y1="376" x2="540.0" y2="497.5" stroke="#b5a3cf" stroke-width="1" opacity="0.72"/><path d="M540.0,372 v5 M540.0,501.5 v-5" stroke="#160a30" stroke-width="1.4"/><line x1="605.0" y1="376" x2="605.0" y2="497.5" stroke="#b5a3cf" stroke-width="1" opacity="0.72"/><path d="M605.0,372 v5 M605.0,501.5 v-5" stroke="#160a30" stroke-width="1.4"/><rect x="344.8" y="371.8" width="273" height="129.9" fill="none" stroke="#1d1140" stroke-width="1.6"/><rect x="621.5" y="372" width="15.3" height="130.5" fill="url(#cb)"/><line x1="631.5" y1="474.6" x2="636.8" y2="474.6" stroke="#15202a" stroke-width="1.3"/><line x1="631.5" y1="447.5" x2="636.8" y2="447.5" stroke="#15202a" stroke-width="1.3"/><line x1="631.5" y1="420.5" x2="636.8" y2="420.5" stroke="#15202a" stroke-width="1.3"/><line x1="631.5" y1="393.4" x2="636.8" y2="393.4" stroke="#15202a" stroke-width="1.3"/><rect x="621.5" y="372" width="15.3" height="130.5" fill="none" stroke="#3a3a3a" stroke-width="0.8"/>
<text x="110.8" y="19.2" font-size="14.8" textLength="184.4" lengthAdjust="spacingAndGlyphs" fill="#1c1c1c">Hanford, Washington (H1)</text><text x="390.8" y="19.2" font-size="14.8" textLength="181.3" lengthAdjust="spacingAndGlyphs" fill="#1c1c1c">Livingston, Louisiana (L1)</text><text x="116.1" y="518.7" font-size="14.2" textLength="29.7" lengthAdjust="spacingAndGlyphs" fill="#1c1c1c">0.30</text><text x="395.0" y="518.7" font-size="14.2" textLength="29.7" lengthAdjust="spacingAndGlyphs" fill="#1c1c1c">0.30</text><text x="181.4" y="518.7" font-size="14.2" textLength="29.7" lengthAdjust="spacingAndGlyphs" fill="#1c1c1c">0.35</text><text x="460.0" y="518.7" font-size="14.2" textLength="29.7" lengthAdjust="spacingAndGlyphs" fill="#1c1c1c">0.35</text><text x="246.7" y="518.7" font-size="14.2" textLength="29.7" lengthAdjust="spacingAndGlyphs" fill="#1c1c1c">0.40</text><text x="525.0" y="518.7" font-size="14.2" textLength="29.7" lengthAdjust="spacingAndGlyphs" fill="#1c1c1c">0.40</text><text x="312.0" y="518.7" font-size="14.2" textLength="29.7" lengthAdjust="spacingAndGlyphs" fill="#1c1c1c">0.45</text><text x="589.9" y="518.7" font-size="14.2" textLength="29.7" lengthAdjust="spacingAndGlyphs" fill="#1c1c1c">0.45</text><text x="173.1" y="539.6" font-size="14.8" textLength="58.2" lengthAdjust="spacingAndGlyphs" fill="#1c1c1c">Time (s)</text><text x="451.7" y="539.6" font-size="14.8" textLength="58.2" lengthAdjust="spacingAndGlyphs" fill="#1c1c1c">Time (s)</text><text x="39.2" y="57.7" font-size="14.2" textLength="21.2" lengthAdjust="spacingAndGlyphs" fill="#1c1c1c">1.0</text><text x="39.2" y="78.1" font-size="14.2" textLength="21.2" lengthAdjust="spacingAndGlyphs" fill="#1c1c1c">0.5</text><text x="39.2" y="98.5" font-size="14.2" textLength="21.2" lengthAdjust="spacingAndGlyphs" fill="#1c1c1c">0.0</text><text x="32.5" y="118.9" font-size="14.2" textLength="27.9" lengthAdjust="spacingAndGlyphs" fill="#1c1c1c">-0.5</text><text x="32.5" y="139.3" font-size="14.2" textLength="27.9" lengthAdjust="spacingAndGlyphs" fill="#1c1c1c">-1.0</text><text x="39.2" y="182.4" font-size="14.2" textLength="21.2" lengthAdjust="spacingAndGlyphs" fill="#1c1c1c">1.0</text><text x="39.2" y="202.8" font-size="14.2" textLength="21.2" lengthAdjust="spacingAndGlyphs" fill="#1c1c1c">0.5</text><text x="39.2" y="223.1" font-size="14.2" textLength="21.2" lengthAdjust="spacingAndGlyphs" fill="#1c1c1c">0.0</text><text x="32.5" y="243.5" font-size="14.2" textLength="27.9" lengthAdjust="spacingAndGlyphs" fill="#1c1c1c">-0.5</text><text x="32.5" y="263.8" font-size="14.2" textLength="27.9" lengthAdjust="spacingAndGlyphs" fill="#1c1c1c">-1.0</text><text x="39.2" y="306.3" font-size="14.2" textLength="21.2" lengthAdjust="spacingAndGlyphs" fill="#1c1c1c">0.5</text><text x="39.2" y="326.5" font-size="14.2" textLength="21.2" lengthAdjust="spacingAndGlyphs" fill="#1c1c1c">0.0</text><text x="32.5" y="346.7" font-size="14.2" textLength="27.9" lengthAdjust="spacingAndGlyphs" fill="#1c1c1c">-0.5</text><text x="34.2" y="382.9" font-size="14.2" textLength="25.5" lengthAdjust="spacingAndGlyphs" fill="#1c1c1c">512</text><text x="34.2" y="412.4" font-size="14.2" textLength="25.5" lengthAdjust="spacingAndGlyphs" fill="#1c1c1c">256</text><text x="34.2" y="441.9" font-size="14.2" textLength="25.5" lengthAdjust="spacingAndGlyphs" fill="#1c1c1c">128</text><text x="42.7" y="471.4" font-size="14.2" textLength="17.0" lengthAdjust="spacingAndGlyphs" fill="#1c1c1c">64</text><text x="42.7" y="500.9" font-size="14.2" textLength="17.0" lengthAdjust="spacingAndGlyphs" fill="#1c1c1c">32</text><g transform="translate(22.6,225.8) rotate(-90)"><text x="0" y="0" font-size="14.8" fill="#1c1c1c" textLength="67.2" lengthAdjust="spacingAndGlyphs">Strain (10</text><text x="68.8" y="-7.2" font-size="9.2" fill="#1c1c1c" textLength="17.4" lengthAdjust="spacingAndGlyphs">−21</text><text x="87.4" y="0" font-size="14.8" fill="#1c1c1c">)</text></g><g transform="translate(23.2,489.4) rotate(-90)"><text x="0" y="0" font-size="14.8" textLength="105.5" lengthAdjust="spacingAndGlyphs" fill="#1c1c1c">Frequency (Hz)</text></g><g transform="translate(670.4,513.2) rotate(-90)"><text x="0" y="0" font-size="14.8" textLength="152.8" lengthAdjust="spacingAndGlyphs" fill="#1c1c1c">Normalized amplitude</text></g><text x="642.4" y="505.6" font-size="14.2" textLength="7.6" lengthAdjust="spacingAndGlyphs" fill="#1c1c1c">0</text><text x="642.4" y="479.2" font-size="14.2" textLength="7.6" lengthAdjust="spacingAndGlyphs" fill="#1c1c1c">2</text><text x="642.4" y="452.1" font-size="14.2" textLength="7.6" lengthAdjust="spacingAndGlyphs" fill="#1c1c1c">4</text><text x="642.4" y="425.1" font-size="14.2" textLength="7.6" lengthAdjust="spacingAndGlyphs" fill="#1c1c1c">6</text><text x="642.4" y="398.0" font-size="14.2" textLength="7.6" lengthAdjust="spacingAndGlyphs" fill="#1c1c1c">8</text>
</svg></body></html>
